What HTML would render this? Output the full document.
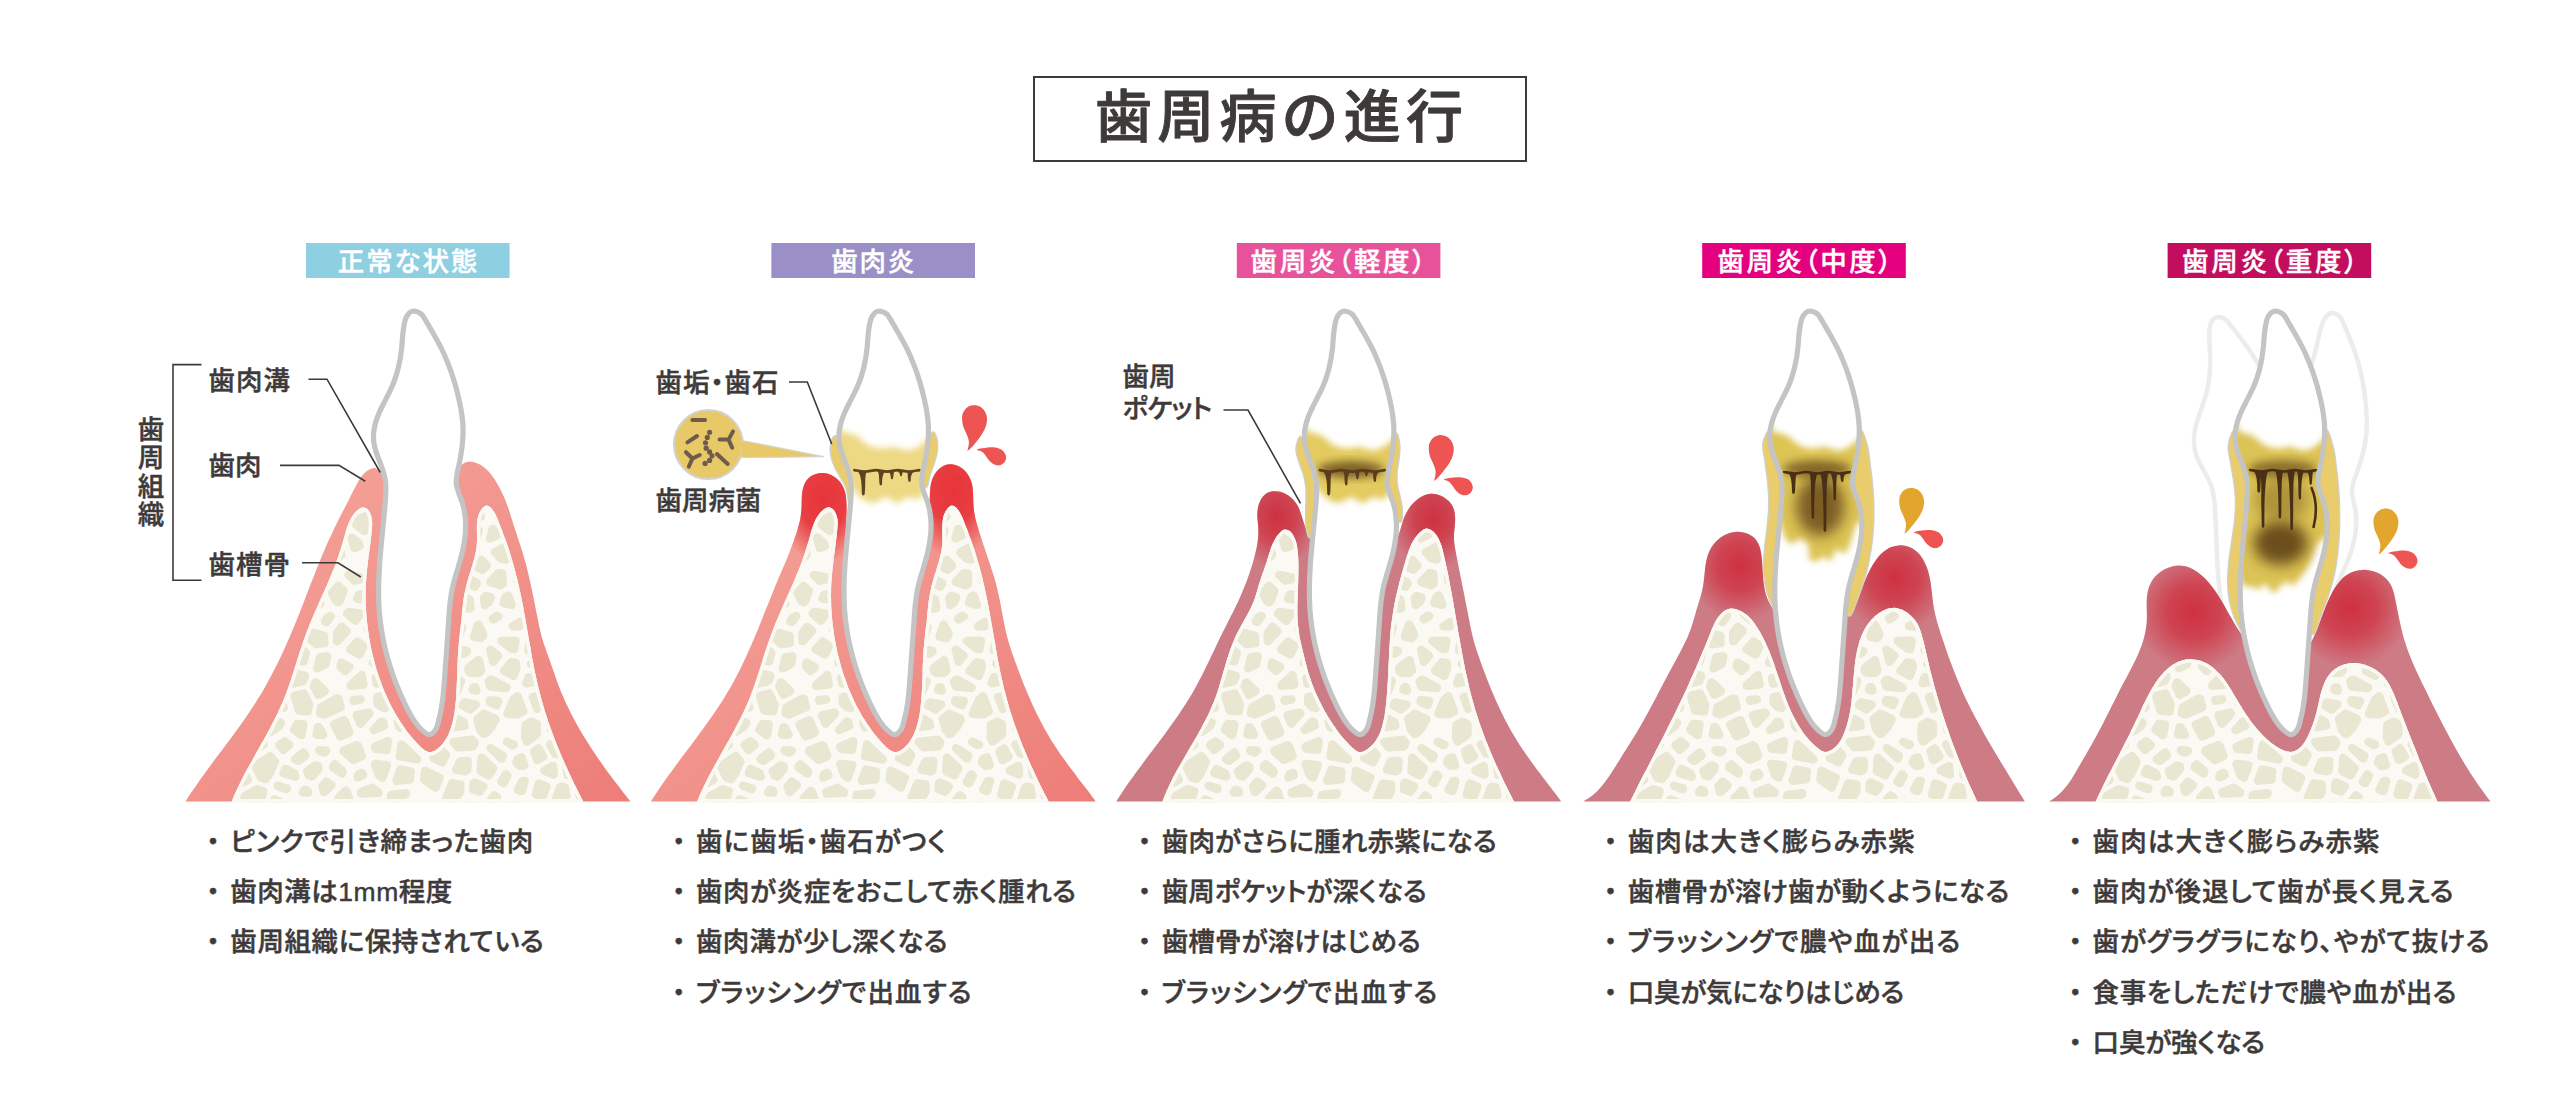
<!DOCTYPE html>
<html lang="ja"><head><meta charset="utf-8"><title>歯周病の進行</title>
<style>html,body{margin:0;padding:0;background:#fff}svg{display:block}text{font-family:"Liberation Sans","Noto Sans CJK JP",sans-serif;font-weight:500;fill:#3e3a39}.b{font-size:26.5px;font-feature-settings:"palt";stroke:#3e3a39;stroke-width:.45px;stroke-linejoin:round}.a{font-size:26.5px;font-feature-settings:"palt";stroke:#3e3a39;stroke-width:.45px;stroke-linejoin:round}.d{font-size:26.5px;stroke:#3e3a39;stroke-width:.45px}.l{font-size:26.5px;font-feature-settings:"palt";fill:#fff;stroke:#fff;stroke-width:.4px;stroke-linejoin:round}</style></head>
<body>
<svg width="2560" height="1106" viewBox="0 0 2560 1106">
<defs>
<linearGradient id="gumA" x1="0" y1="0" x2="1" y2="1"><stop offset="0" stop-color="#f5a89e"/><stop offset="1" stop-color="#ed7d78"/></linearGradient>
<radialGradient id="redA"><stop offset="0" stop-color="#e7343a" stop-opacity="1"/><stop offset="0.5" stop-color="#e7343a" stop-opacity="0.9"/><stop offset="1" stop-color="#e7343a" stop-opacity="0"/></radialGradient>
<radialGradient id="redB"><stop offset="0" stop-color="#cf3140" stop-opacity="1"/><stop offset="0.45" stop-color="#cf3140" stop-opacity="0.75"/><stop offset="1" stop-color="#cf3140" stop-opacity="0"/></radialGradient>
<filter id="bl2" x="-20%" y="-20%" width="140%" height="140%"><feGaussianBlur stdDeviation="3"/></filter>
<filter id="bl4" x="-30%" y="-30%" width="160%" height="160%"><feGaussianBlur stdDeviation="4.5"/></filter>
<filter id="bl7" x="-40%" y="-40%" width="180%" height="180%"><feGaussianBlur stdDeviation="7"/></filter>
<path id="tooth" d="M412.3,311.3C414.8,310.7 418.9,312.2 421.4,314.1C423.8,316 425.1,319.7 426.9,322.6C428.7,325.4 430.3,328.4 432,331.3C433.7,334.2 435.3,337.1 436.9,340C438.5,342.9 440.1,345.8 441.5,348.7C443,351.7 444.4,354.7 445.6,357.7C446.9,360.7 448.2,363.8 449.3,366.9C450.5,370 451.6,373.1 452.6,376.3C453.6,379.4 454.6,382.6 455.5,385.8C456.4,389 457.2,392.2 458,395.5C458.8,398.7 459.6,402 460.2,405.3C460.9,408.5 461.4,411.8 461.9,415.1C462.3,418.4 462.7,421.7 462.9,425C463.1,428.3 463.1,431.6 463,434.8C462.9,438.1 462.6,441.4 462.3,444.7C461.9,448 461.5,451.3 460.9,454.6C460.4,457.8 459.8,461.1 459.1,464.4C458.5,467.7 457.5,471 457,474.2C456.6,477.5 456,480.8 456.3,484C456.6,487.2 457.9,490.3 458.9,493.5C459.9,496.7 461.5,499.8 462.4,503C463.4,506.2 464.1,509.4 464.6,512.7C465.2,515.9 465.4,519.2 465.6,522.5C465.7,525.8 465.6,529.1 465.4,532.4C465.1,535.7 464.7,539 464.2,542.3C463.7,545.6 463.1,548.9 462.3,552.1C461.6,555.4 460.7,558.6 459.8,561.8C458.9,565.1 457.9,568.2 457,571.4C456,574.6 455,577.8 454.2,581C453.3,584.1 452.5,587.3 451.9,590.6C451.3,593.8 450.8,597 450.4,600.3C449.9,603.6 449.7,606.9 449.4,610.2C449.1,613.5 448.9,616.8 448.7,620.1C448.5,623.5 448.3,626.8 448,630.1C447.8,633.4 447.6,636.8 447.3,640.1C447.1,643.4 446.9,646.8 446.6,650.1C446.4,653.4 446.2,656.7 445.9,660C445.7,663.4 445.4,666.7 445.2,669.9C445,673.2 444.7,676.5 444.5,679.8C444.2,683 444,686.3 443.7,689.5C443.4,692.8 443.1,696 442.7,699.3C442.3,702.5 441.8,705.8 441.2,709.1C440.6,712.4 439.9,715.8 439,719.2C438.1,722.5 437.4,726.8 435.8,729.3C434.1,731.9 431.6,734.6 429.2,734.6C426.8,734.7 423.7,731.6 421.3,729.5C418.9,727.4 416.9,724.7 415,722C413.1,719.3 411.4,716.4 409.8,713.5C408.2,710.5 406.7,707.5 405.2,704.5C403.8,701.5 402.4,698.4 401,695.4C399.7,692.3 398.4,689.2 397.1,686.1C395.9,683 394.7,679.9 393.6,676.8C392.4,673.7 391.4,670.5 390.4,667.3C389.3,664.2 388.4,661 387.5,657.8C386.6,654.6 385.8,651.4 385.1,648.2C384.3,644.9 383.6,641.7 383,638.5C382.4,635.2 381.8,632 381.3,628.7C380.8,625.4 380.4,622.2 380,618.9C379.7,615.6 379.4,612.3 379.1,609C378.9,605.7 378.8,602.5 378.7,599.2C378.6,595.9 378.6,592.6 378.6,589.3C378.6,585.9 378.7,582.6 378.8,579.3C378.9,576 379.1,572.7 379.3,569.4C379.5,566.1 379.7,562.7 379.9,559.4C380.2,556.1 380.5,552.8 380.8,549.5C381.1,546.1 381.4,542.8 381.7,539.5C382,536.2 382.4,532.9 382.7,529.5C383,526.2 383.3,522.9 383.7,519.6C384,516.3 384.3,513 384.6,509.7C384.9,506.3 385.2,503 385.4,499.7C385.6,496.4 385.9,493.1 385.9,489.8C385.9,486.6 385.8,483.3 385.3,480.1C384.8,476.9 383.9,473.7 382.9,470.5C382,467.3 380.6,464.2 379.5,461.1C378.3,457.9 377,454.8 376,451.6C375.1,448.4 374.1,445.2 373.8,442C373.4,438.8 373.4,435.4 373.7,432.2C374,428.9 374.8,425.5 375.7,422.3C376.6,419.2 377.8,416 379.1,413C380.4,409.9 381.9,407 383.4,404C384.9,401 386.5,398.1 387.9,395.2C389.4,392.2 390.9,389.3 392.2,386.2C393.5,383.2 394.7,380.1 395.7,376.9C396.8,373.7 397.7,370.5 398.4,367.3C399.2,364 399.8,360.7 400.4,357.5C400.9,354.2 401.3,350.9 401.7,347.7C402,344.4 402.2,341.2 402.5,337.9C402.8,334.7 403,331.4 403.6,328C404.2,324.6 404.7,320.5 406.1,317.7C407.5,314.9 409.7,311.9 412.3,311.3Z"/>
<clipPath id="ct"><use href="#tooth"/></clipPath>
<path id="spots" d="M288.1,470.5 312.8,489.9 314.6,487.3 290.1,458.5 288,470.2ZM337.3,482.8 344,487.1 347.1,485.1 341.4,476ZM434.8,471.1 440.5,485.7 446.6,486.9ZM538.4,483.9 554.5,486.4 558.3,483.2 550.3,437.5ZM209.3,491.9 215.4,495.6 219.9,492.3ZM244.4,491.8 251.8,493.3 251.8,491.7 249.8,490.6ZM267.7,499.8 273.1,502.1 275.7,500.2 275.3,484.9 267.3,490.9ZM291.4,497 300.1,498 291.2,491.1ZM338.1,498.8 327.1,491.8 326.3,492.1 323.9,495.6 329.9,502.9ZM352,499 356.5,506.5 362.8,503.8 360.5,493.2 358.7,493.4 351.7,498ZM377,503.1 379.1,485.3 373.5,485.6 372,487.7 375.3,502.6ZM388.9,503.7 397.8,503.6 404.6,497.9 402.8,489.7 391.3,483.4ZM417.1,492.8 426.6,487.8 423.5,479.9 416,488ZM427.4,503.4 436.7,507 442.3,499.5 436.9,498.4ZM475.2,491.7 467.3,489.9 459,493 456.6,496.2 456.7,497.3 465.7,503.7 474.3,498ZM490.1,494.2 489.2,500.5 494.1,508.1 499.5,504 492.9,495.3ZM512.7,497.4 523,491.7 515.7,490.1 508.7,492.2ZM537.8,496.8 542.6,508 549.6,500.1 549.7,498.6ZM563.9,499 564.3,499.3 567.3,495.5 566.2,495 564,496.9ZM585.9,497.6 586.7,503 588.9,499ZM224.7,524.3 229.3,520.9 228.1,517 224.3,515.8 223.9,523.8ZM242.6,514.3 249.6,507.7 243,506.3 241.5,510.6ZM266.9,529.4 269.5,526.5 268.5,515 262.9,512.7 251.1,523.7 252,524.4ZM281.7,523.7 294.7,527.8 301,524.7 299.2,512.5 285.3,510.8 280.8,513.9ZM311.2,508.7 313,520.6 324.3,517.7 322.9,513.6 315.2,504.3ZM343.1,511.9 338,514.5 338.6,516.2 343.7,518.5 345.1,515.2ZM364.4,530.9 374.5,523.4 374.8,514.9 370.7,513.9 358.5,519.2 356.2,524.6ZM386.5,524 391,528.1 396.8,525.8 394.9,515.6 386.8,515.7ZM410.2,524.9 412.4,524 413.9,510.9 412.1,508.9 407.9,512.4ZM436.1,528.7 433.8,520 427,517.4 426.1,524.9ZM448.7,525.1 455.6,524.6 457.7,521.3 458.4,515.6 451.1,510.3 446.4,516.6ZM473.7,516.3 480.9,516.6 478.7,513ZM503,519.9 508.4,524.4 511.1,521.4 508.4,515.8ZM521.2,508.9 524,514.7 530,514.5 526.5,506ZM556.8,511.6 553.6,515.2 561.7,519.2 560.1,514ZM576.2,522.7 577.3,522.3 575.2,508.1 572.6,511.3ZM591.3,520.2 598.9,514.8 596.4,510.4ZM162.3,533.6 207.4,543.5 211.8,535.9ZM240.2,530.6 234.5,534.7 241,548.2 241.3,548.3 242.6,532.5ZM261,549.9 262.1,540.5 254.5,538 253.3,552.4 253.7,552.6ZM273.5,549.2 276.8,549.9 285.3,538.1 277.7,535.7 274.7,539ZM302.9,538.7 304.9,551.2 311.3,546.7 305.4,537.5ZM319.7,532.9 324.7,540.6 334,530.9 331.6,529.8ZM351.7,537.6 354.4,547.9 359.5,546.2 358.3,542.7ZM374,544.4 380.4,545.1 381.8,537.8 379.8,536 372.9,541.2ZM402.1,537.7 395.9,540.2 394.1,550.2 395.5,551.4 398.9,551.7 402.8,544.8ZM423.2,538.7 419.3,537.3 416.9,538.3 416.9,538.7ZM445.9,552.9 460.1,543.2 456.2,538.6 447.2,539.1 446.2,540.2 444.7,546.6ZM475.9,540.1 478.8,530.5 467.6,530 467.2,530.5 474.8,539.6ZM490,538.5 498.7,534 492.8,529ZM518.6,535.6 520.1,537.9 528.6,535.7 528.2,530.3 523.1,530.6ZM543,524.9 543.9,538.5 544.8,539.2 555.1,531ZM554.8,549.6 557.9,550.5 561.2,544.6ZM599.2,550.5 587.6,533.5 584.3,533 580.7,534.4 580.7,534.7 586.6,550.5ZM-19.7,545.5 157.2,564.4 209.9,567.8 206,558.9 87,532.7ZM221.6,557.3 227.6,551.8 224.2,545 219.7,552.9ZM225.1,572.7 244.3,572.4 246.2,562.6 244.7,561.8 238.6,560.4ZM278,565.1 280.2,572.3 282.8,573 285.9,569.3ZM289.6,554.4 291.5,555.4 291,552.5ZM307.6,566.2 307.8,566.4 324.8,561.3 321.8,556.2ZM338.8,557.3 341.2,554.8 339.2,547.1 335.3,551.2ZM374.2,570.3 377.6,569.8 382.5,560.5 375.8,559.8ZM412.7,556.2 425.4,553.6 414.2,553.5ZM431.4,565.8 420.8,568 424.2,572.7ZM467.8,555.3 454,564.7 456.2,567.2 462.4,564.6ZM481.7,559.9 477.5,567.2 482.4,569.8 486.6,565.5ZM495,552.2 500.8,558.5 506,559.6 508.1,548.9 506.4,546.3ZM536.5,559.6 539.5,554 539,551.7 535.7,548.9 521.9,552.4 520.4,560 532.6,562.6ZM571.3,559.1 574,555.6 573.2,553.5 570.5,558.3ZM211.3,581.4 188.7,579.9 208.5,589ZM238.5,590.3 240,586.6 236,586.7ZM256.1,576.4 261.8,578.9 266.5,576.2 262.4,562.5 258.6,563.8ZM272.7,588.8 275.3,591.2 276.1,587.7 275,587.5ZM299.3,578.2 297.1,580.9 304.4,587.5 304.5,587.5 300.2,578.9ZM327.8,575 316.9,578.3 319.6,583.6 320.2,583.7ZM348.5,574.9 354.5,580.7 360.8,579.2 361.2,578.4 360.8,577.4ZM375.6,589.1 378,584.4 373.3,585.1 373.3,585.2ZM397.9,565.5 396.4,565.4 390.8,575.9 391.3,576.4 395.8,579.1ZM409.6,586.9 414.6,587.9 415.1,584 410.9,578.3ZM429.8,590.7 442.1,588.2 446.9,581.1 446.9,578.5 442.6,573.6 430.5,585.4ZM462.3,579.8 474.5,586.7 476.6,584.3 476.7,582.9 467,577.8ZM490.4,581.6 490.4,582.1 500.2,585.2 502.8,583.7 502.3,573.7 498.9,573ZM517.3,574.2 517.6,581.1 527.6,580 527,576.3ZM593.1,578 597.2,577.6 598.8,575ZM221.2,591.3 218.4,599 217.5,603.1 230.1,606.8 232.4,606.9ZM261.8,607.5 263.3,607.8 266.7,604.4 264.9,602.6ZM290.4,596.2 289.7,599.2 293.3,601 294,599.6ZM310.5,602.3 320.1,603.8 320.2,603.7 317.5,598.4 316.2,598.1ZM338.3,602.1 340.1,600.5 343.4,590.8 338.3,586 332.1,593.1 336.2,601ZM365.1,599.8 361.8,594.2 358.4,595.1 357.2,598.7ZM386.1,599.2 389.2,596.9 392.6,593.5 389.8,591.9ZM415.3,603.9 405.2,601.9 404.4,602.6 411.7,610.2ZM431,604.2 437.5,611.5 446.5,607.7 443.3,601.7ZM456.5,592.3 454.5,595.2 460.3,606.4 463.1,608.7 470.5,608.2 469.6,599.7ZM484.8,605.1 488.9,602.1 490.8,597.4 486,595.9 484,598.1ZM503.5,602.9 511.5,604.9 508.1,595.5 505.9,596.7ZM526.4,608.2 532,594.4 521.7,595.6 526.3,608.1ZM541.1,609.2 543.3,609.4 551.1,601.9 550,598.1 545.5,598.1ZM563.6,593.6 565.4,599.7 570.2,602.7 575.5,601 575.3,590.1 572.8,587.8ZM588.5,603 597.3,610.1 604.3,606.7 598,591.7 588.3,592.6ZM209.8,629.6 218.7,617.1 210.6,614.6 205.2,617.9ZM251.1,620.1 254.6,630.8 264,630.1 260.6,622.2ZM280.3,611.6 274.3,617.6 276.8,623.3 289,618.8 288.7,615.7ZM304.1,617 304.4,620.2 305.2,621 307.2,620.2 308.7,617.7ZM327.3,617.7 325,621.5 326.5,621.9 330.8,616.1 330.5,615.9ZM347.2,613.5 355.4,620.9 360.7,613.6 348.9,611.9ZM367.4,629.1 371.9,632.4 379.9,623.6 377.5,615.5 377.4,615.5ZM392.2,612.4 394.5,620 403.8,623 393.1,611.8ZM421.5,623 429.5,624.5 429,622.2 424.7,617.4ZM452.1,618.5 442.8,622.5 444.6,631 444.8,631.2ZM457.1,635.7 459.2,635.6 462,627.3ZM492.9,618.7 493.3,619.4 498.4,616.2 496.9,615.8ZM512.7,626.3 519.3,626.2 519.7,622ZM534.6,622.8 534.2,626.6 543.4,632.8 550.2,631.1 542.8,623.6ZM555.1,617.2 560.3,622.4 562.1,613.5 560.2,612.3ZM580.8,615.1 576.3,616.6 575.9,618.4 585.3,618.6ZM613.9,639.2 756.3,664.7 1041.8,663.6 613.3,616.9 602.4,622.3 600.7,627.7 600.9,630.8ZM215.3,646.6 227.8,652 229.9,651.1 224.4,645.7ZM234.7,636.1 240.7,641.9 243,637.8 239.4,626.8ZM268.4,651.8 268.5,651.8 266.2,644.4 253.9,645.4 253.5,646.1ZM278.5,637.3 281.7,647.9 282,647.9 297.2,638.1 296.8,633.3 295,631.3ZM309.4,634.3 309.7,638.6 316.2,644.2 324.3,643.2 324,635.7 313.1,632.9ZM337.1,641.3 346.6,631.2 341.6,626.7 336.9,633.2ZM350.2,649.4 359.5,654.5 363.5,646.1 357.5,641.7ZM383.4,641.9 392.6,646.7 396.4,635.4 390.9,633.7ZM408.2,642.4 405.8,649.2 411.9,649.1ZM421.8,638.2 428.2,649.8 428.5,649.8 436.3,642.2 435,640.8ZM467.1,651.1 463.4,650.2 461.1,650.3 463.6,653.8ZM478.2,624.6 474.1,636.7 480.6,638.2 482.7,636 483.1,634.5 482.9,633.3ZM501.5,641 511.3,648.7 514.1,649.1 515.6,640.8ZM528.3,650.3 533.7,648.2 534.1,644.1 529.9,641.2ZM560.8,651.9 556.6,644.4 549.3,646.3 549.1,649.7 554.3,653.1ZM567.9,634.7 574.3,646.2 585.7,633.7 569.1,633.4ZM590.8,656.2 599.4,647.3 595.4,644.7 587.5,653.4ZM204.7,657.4 190.4,669.3 216.9,677.3 219.1,676.4 221.2,664.5ZM231.6,676.9 242.1,675.9 235.7,664.3 233.6,665.3ZM247.8,658.9 254.2,670.4 260.7,663.9ZM277.7,664.2 282.5,670 283.8,667.5 279.5,662.4ZM303.4,650.8 294.8,656.4 297.7,659.9 303.6,661.6 305.9,652.9ZM317.3,668.2 325.4,664.2 327,656.3 320.2,657.1ZM341.3,662.6 340.5,666.5 345.1,670.9 349.4,667.1ZM372.9,662.7 388,664.7 388.2,660.7 376.6,654.8ZM401.5,666.2 411.6,664.2 413.8,661.5 401.8,661.7ZM424.6,674.9 427.6,669.8 426.8,667.8 423.6,671.6ZM440.4,659.4 442.5,665.2 449.6,669.1 454.5,667.9 454.5,667.6 445.1,654.8ZM478.7,660.1 468.5,668.1 468.6,670.9 471,672.9 478.3,673.1 481.2,670.4ZM490.3,649.7 493.2,661.8 498.2,655.9ZM516.4,667.8 516,663.3 515.7,662.8 511.5,662.3 504.2,670.8 513.5,675.9ZM531,663.9 542.3,665.6 544.2,662.8 540.3,660.3ZM558.6,668 557.2,668.2 553.4,673.7 554.3,677.5 558.3,677.4ZM572.8,677.9 582.9,668.3 574.1,660.9 573.8,660.9 573.3,661.4ZM601.4,666.8 605.7,670.8 642.6,676.1 703.2,669.8 613.9,653.8ZM178.1,680 167.3,683.5 201.4,699.9 209.4,697.8 209.3,689.4ZM260.8,683.2 263.5,690.6 276.3,686.1 268.1,676ZM290.8,684.2 302.9,681.2 304.9,676.3 304.8,675.9 296.4,673.5ZM315.5,682.4 314,686.1 318.2,694.8 324.7,691.1ZM350.6,685.7 363.4,684.6 361.7,675 350.8,684.8ZM376.8,683.5 388.9,681.9 388.7,679.6 375.8,677.9ZM402.7,684.7 413.2,686.9 410.4,677 402.1,678.6ZM435.1,687.8 438.6,689.8 440,681.3 439.2,680.9ZM461,681.2 460.7,680.9 454.1,682.4 451.5,697.8 452.2,698.2 456.6,692.5ZM475.1,687.1 473.8,687.1 472.7,689.9 476.3,690.7ZM490.9,679.6 488.7,681.7 490.3,686.5 506.1,688.1 506.4,687.8 491.5,679.6ZM526.3,683.3 539.2,680.7 538.8,678.8 528.5,677.2ZM554.3,692 554.8,694.6 564.8,693.8 564.6,693.3 563.1,691.7ZM599.2,700.5 621.4,687.6 605.3,685.3 595.1,697.6ZM257.8,705 246.9,714.3 257.4,721.9 260.4,712ZM281.3,699.6 272,702.9 272.9,705.4 283.8,707.7ZM307.9,711.3 309,704.4 303.8,693.6 294.6,695.8 298.9,710.5ZM324.2,714.5 340.6,707.2 338.3,698.6 336.6,698.6 321.2,707.4 320.3,713.2ZM360.6,699.4 353.6,700 353.8,700.8ZM389.7,695.4 377.6,697 377.3,703 381.7,707.2 385.2,708.1ZM400.9,706.3 408.3,705.2 408.3,700.3 403.4,699.2ZM423.6,711.7 432.8,702.4 423.2,697 422.9,697 422.1,697.5 422.2,709.9ZM440.7,719.3 445.1,709.9 444.5,709.5 436.8,717.3ZM462.5,705.2 469.9,709.4 475.7,704.6 464.7,702.5ZM490,700.2 489.8,700.8 489.8,702.1 496.6,705.2 498.4,701ZM507.5,713.7 517.8,714.3 523.3,711.4 517.6,696.2 513.7,699.4ZM537.3,708.8 541.6,700.6 540.7,695.7 532.9,697.2ZM549.2,714.5 564.9,711.8 566.4,706.3 552.9,707.4ZM577.2,714.1 592.2,721.2 592.7,720.7 592.4,712.4 582.9,705.5 579.5,705.6ZM219.3,724.2 220.7,725 221.2,724.8 225.4,716.7 224.5,716.3ZM236.2,729 241.8,734.1 246.4,731.6 238.1,725.5ZM280.9,722.6 272.7,720.8 269.8,730.3 271.2,731.6 278.9,726.3ZM297.2,723.9 294.1,729.6 301.4,735.1 303.4,724.5ZM318.1,727.1 316.6,734.5 323.1,734.8 319.2,727.5ZM334.1,724.5 340.4,736.3 349.4,732.7 344.1,720.1ZM356.7,715.2 360.3,723.7 369.4,713.4 368.7,712.7ZM373.9,730 383.9,725.7 383,722.1 381.2,721.7ZM399.7,727.4 412.4,723.6 413.9,720.4 413.1,719.2 397.9,721.4 399.3,726.9ZM425.4,726.6 424.3,728.8 431.4,739.8 438.8,735.8 438.9,735.5 438.5,733.4ZM454,727.1 464.5,725.9 463.5,722.2 457.8,718.9ZM485.6,733.3 491.6,726.8 495.4,719.6 495.1,718.7 484.1,713.7 477.5,719.1 480.2,729.8 483.9,733.9ZM526.9,741.5 535.7,735.2 536.8,733.4 536.6,724 536.4,723.9 531.8,721.7 525.6,724.9 525.3,738ZM561.3,734.2 561.8,726.3 550.9,728.2 551,729.9ZM583.6,732.5 576.8,729.3 576.5,734.8 582.8,734.7ZM610.2,733.7 629.8,756.8 752,763.4 759.5,762.6ZM184.5,749.7 209.6,742.7 211.4,737 207.5,734.8 181.6,749.2ZM224.2,746.7 231.3,754.6 231.9,754.4 232.6,746.5 226.1,740.7ZM259.8,741.1 247.4,747.7 246.7,755.8 246.8,755.9 263.4,744.6ZM279.4,745 283.4,749.7 289.2,744.9 284.6,741.4ZM303.4,752.4 295.1,759.2 298.2,760.8 305.3,755.7ZM319.3,750.3 319.8,751.1 323.8,752.6 326.3,750.6ZM353.3,759.8 361.4,756.3 361.8,755.7 358.4,746.6 356.8,745.2 343.9,750.3 343.6,751.3ZM387.9,741.2 374.9,746.7 375.7,748.8 386.6,749.9ZM399.8,756.2 416.9,759.5 417.1,759.4 401.6,744.5ZM417.5,742 414.3,737.2 412.9,737.6ZM433.5,757.9 442.4,762.1 445.8,755.2 441.8,750.3 435.5,753.8ZM453.5,741.8 458.1,747.3 472.5,746.6 474,744.7 474.7,742.6 472.1,739.7ZM490.7,748.2 501.8,758.6 502.8,755.8ZM506.9,741.8 512.2,745.2 513.7,744.6ZM543.1,756.5 538.5,748.3 534.2,751.4 537.1,760ZM550,744.5 555,753.4 557.2,753.9 559.7,751.1 559.9,748.6ZM572.9,749.6 587.2,757.8 583.4,749.1 572.9,749.3ZM595.9,739.9 595.2,741.8 601,754.9 609.9,756.3ZM203.6,760.2 214.6,767.6 219,764.5 212.8,757.6ZM233.4,769.2 233.3,769.2 242.9,782.6 247.8,779.8 242.6,769 238.9,767.4ZM275,761.7 270.2,756.1 255.5,766.1 261,777.4 265.7,778.9 269.5,773.8ZM285.4,768.9 283.5,773.1 295.5,776.6 294.1,773.3ZM318.3,766.4 315.4,765.4 307.3,771.2 309,775.3 312,776.5 318.3,769.3ZM342,773.6 342.7,771.2 335,764.4 333.4,765.7 333.3,767.6ZM357.7,777.4 363,775.3 362,772.8 358.6,774.3ZM374.9,764 379,775.3 382.3,777.7 386.9,765.1ZM396.4,780.8 409.9,779.3 410.6,771.7 400.4,769.6ZM425.2,770.8 424.3,779.7 435.4,787.7 439.5,777.7ZM456.1,769.7 465.5,771.3 467.1,770.3 467.8,761 460.1,761.4ZM481.6,757.8 480.7,771.2 489,775.2 493,768.4ZM501.5,781.7 503.7,783.2 507.4,775.9 505.8,774.4ZM521.6,757.3 517.7,758.9 516.4,762.4 520,765.9 524.3,765.3ZM544.5,770.6 553.7,774.6 552.9,766.2 552.3,766.1ZM566.3,762.7 567.4,774.8 569.9,775.4 574.9,773.3 578,768.3 567,762ZM606,769.7 597.6,768.4 592.4,771.3 588.6,777.4 593.3,781.9ZM211.6,788.4 202.7,796.9 204.2,797 212.8,792.2ZM226.6,790.6 232.1,792.8 233,791.6 223.9,778.9 223.2,779.4ZM263.3,791.2 257.2,789.2 245.3,796 244.2,797.7 259.7,803.1ZM277.8,785.8 286.3,789.2 286.8,788.4 277.8,785.7ZM302.9,792.4 308.1,792.6 307.5,790.6 304.9,789.6 304.7,789.7ZM331.4,785.2 326.3,781.7 322.3,786.4 324,792 324.7,791.9ZM345.6,790.8 338.5,797.9 347.7,803.9 349.5,800.2 346.6,791.8ZM378.3,792.9 378.4,792.1 372.1,787.7 361,792.1 361.5,793.6ZM390.9,797.6 393.9,800.9 405.9,794.2 406,793.2 391.4,794.8ZM446.1,798 455.3,799.1 460,791.9 460.3,784.7 452.2,783.3ZM473.3,789.4 479.3,791.7 483.3,786.6 474.8,782.5 473.6,783.2ZM488.9,809 492.7,808.7 497,797.3 494.3,795.5 488.9,802.3ZM521.7,791 524.6,780.9 522.3,781.2 517.9,789.7ZM535.9,794.4 543.1,795.8 546.4,786.6 539,783.4ZM556.1,798.4 566.4,795.7 565,787.5 561.8,786.7 560.1,787.4ZM578.2,786.8 579.9,797.3 583.9,802.1 587.9,801 586.9,795.1ZM626,772.5 624.6,772.6 601.7,794.5 602.6,800.3 613.4,804.6 706.9,776.9ZM221.6,802.8 215.7,806.1 225.6,818.2 227.5,805.2ZM240.3,810.1 239.1,818.6 255.6,820.7 257.8,819.4 257.4,816.1ZM283.8,803.4 274.1,799.5 270.4,811.6 271.2,818.5 272.7,819.1 284.6,817.8ZM297.9,817.8 303.2,815.1 308.4,807.3 297.3,806.9ZM317.2,818.4 323.9,822.6 324.4,822.7 318.6,816.1ZM330.3,808.7 335.1,814.1 337,813.1ZM359,813.3 361.6,816.8 368.1,808 361.5,808.3ZM400.9,811.5 406.2,816.3 410.9,807.4 410,806.3ZM430.5,821.3 433.1,809.4 422.7,812.2 419.5,818.5ZM455.2,812.3 446.2,811.3 444.1,820.5 460.3,819.5 460.6,818.9ZM469.4,803.1 467.8,805.5 471.8,810.2 474.1,810 474,804.9ZM506.7,813.9 511.6,819.2 515.3,819.7 517.4,805.5 510.7,803.4ZM531.1,816.6 541.2,812.2 541.9,810.3 532.3,808.5ZM554.6,818.8 556,822.6 559.6,821ZM564.6,809.2 572.5,812.7 573.7,810.6 571.1,807.5ZM584.9,820.4 595,830.1 601.7,817.1 595.2,814.5 586.9,816.9ZM351.5,828.6 347.9,823.7 338.8,828.1 337.9,829.9 344.8,847.8ZM386.6,831.5 393,841.3 396.7,826.5 394.5,824.6ZM476.8,823.6 472.7,824 470.8,827.4 473.6,877.8 480.9,854.1ZM490.6,823.7 492.2,835.6 498.5,827 495,823.3Z"/>
<path id="bn0" d="M231.3,802.5L232.3,799.9L233.4,797.3L234.5,794.8L235.7,792.2L236.8,789.7L238,787.2L239.2,784.7L240.5,782.2L241.7,779.7L243,777.2L244.3,774.7L245.6,772.2L246.9,769.8L248.3,767.3L249.6,764.8L251,762.4L252.3,759.9L253.7,757.5L255.1,755L256.5,752.6L257.9,750.1L259.2,747.7L260.6,745.3L262,742.8L263.4,740.4L264.7,737.9L266.1,735.4L267.4,733L268.8,730.5L270.1,728.1L271.4,725.6L272.7,723.1L274,720.6L275.2,718.1L276.5,715.6L277.7,713.1L278.9,710.6L280,708L281.2,705.5L282.3,702.9L283.4,700.4L284.4,697.8L285.4,695.2L286.4,692.6L287.4,690L288.3,687.3L289.3,684.7L290.2,682.1L291.1,679.4L291.9,676.8L292.8,674.1L293.6,671.4L294.5,668.8L295.3,666.1L296.2,663.4L297,660.8L297.8,658.1L298.7,655.4L299.5,652.8L300.4,650.1L301.3,647.4L302.2,644.8L303.1,642.1L304,639.5L304.9,636.9L305.9,634.2L306.9,631.6L307.9,629L308.9,626.4L309.9,623.8L311,621.2L312.1,618.7L313.2,616.1L314.3,613.5L315.4,611L316.5,608.4L317.7,605.8L318.8,603.3L319.9,600.7L321.1,598.2L322.2,595.6L323.4,593.1L324.5,590.5L325.6,588L326.8,585.4L327.9,582.8L329,580.3L330.1,577.7L331.1,575.1L332.2,572.5L333.2,570L334.3,567.4L335.3,564.8L336.3,562.2L337.2,559.5L338.1,556.9L339.1,554.3L339.9,551.6L340.8,549L341.6,546.3L342.4,543.6L343.2,540.9L343.9,538.2L344.7,535.4L345.4,532.7L346.2,530L347.1,527.3L348,524.7L349.1,522.1L350.3,519.6L351.7,517.1L353.3,514.8L355,512.6L357.1,510.5L359.4,508.7L361.8,507.6L364.3,507.5L366.7,508.6L368.7,510.6L370.2,513.2L371.2,516L371.9,518.8L372.1,521.6L372.2,524.4L372,527.1L371.8,529.9L371.5,532.7L371.3,535.5L370.9,538.2L370.6,541L370.3,543.8L369.9,546.5L369.6,549.3L369.2,552.1L368.8,554.9L368.5,557.6L368.1,560.4L367.8,563.2L367.5,566L367.1,568.8L366.9,571.5L366.6,574.3L366.4,577.1L366.2,579.9L366,582.7L365.8,585.5L365.7,588.3L365.7,591.1L365.6,593.8L365.6,596.6L365.7,599.4L365.7,602.2L365.8,605L365.9,607.8L366.1,610.6L366.3,613.4L366.5,616.2L366.7,618.9L367,621.7L367.3,624.5L367.6,627.3L368,630.1L368.4,632.8L368.8,635.6L369.3,638.4L369.8,641.1L370.3,643.9L370.8,646.6L371.4,649.4L372,652.1L372.6,654.8L373.3,657.6L374,660.3L374.7,663L375.4,665.7L376.2,668.4L377,671L377.9,673.7L378.8,676.4L379.7,679L380.6,681.6L381.6,684.2L382.6,686.9L383.6,689.4L384.7,692L385.8,694.6L386.9,697.1L388.1,699.7L389.3,702.2L390.6,704.7L391.8,707.2L393.2,709.6L394.5,712.1L395.9,714.5L397.3,716.9L398.8,719.3L400.3,721.7L401.8,724L403.4,726.3L405,728.6L406.6,730.9L408.3,733.1L410.1,735.3L411.9,737.4L413.7,739.6L415.6,741.7L417.5,743.7L419.5,745.7L421.5,747.7L423.7,749.5L426.1,751L428.6,752L431.2,752L433.8,751.2L436.3,749.8L438.5,748.1L440.6,746.1L442.5,744L444.2,741.7L445.7,739.3L447.1,736.9L448.4,734.4L449.5,731.8L450.5,729.2L451.3,726.6L452.1,723.9L452.8,721.2L453.4,718.5L453.9,715.7L454.4,713L454.8,710.2L455.1,707.4L455.4,704.6L455.7,701.9L456,699.1L456.2,696.3L456.4,693.5L456.5,690.7L456.7,687.9L456.8,685.1L456.9,682.3L457,679.5L457.1,676.7L457.2,673.9L457.2,671.1L457.3,668.3L457.4,665.5L457.5,662.7L457.7,659.9L457.8,657.1L458,654.3L458.1,651.6L458.3,648.8L458.6,646L458.8,643.2L459.1,640.4L459.4,637.7L459.7,634.9L460,632.1L460.3,629.3L460.7,626.5L461,623.8L461.3,621L461.6,618.2L461.8,615.4L462.1,612.6L462.4,609.8L462.7,607L463,604.3L463.3,601.5L463.7,598.7L464.1,595.9L464.6,593.2L465.2,590.5L465.8,587.8L466.4,585.1L467.2,582.4L467.9,579.7L468.7,577L469.5,574.3L470.4,571.7L471.2,569L472,566.3L472.8,563.6L473.6,560.9L474.3,558.2L475,555.5L475.6,552.7L476.1,550L476.5,547.2L476.8,544.4L477,541.6L477.1,538.8L477.1,536L477,533.2L476.9,530.4L476.9,527.6L476.9,524.8L477.1,522L477.5,519.2L478.1,516.4L479.1,513.7L480.4,510.9L482.1,508.4L484.1,506.4L486.2,505.4L488.4,505.9L490.6,507.6L492.7,510L494.4,512.6L495.9,515.2L497.1,517.8L498.2,520.4L499.1,522.9L500.1,525.5L501.1,528.1L502.1,530.6L503,533.2L504,535.9L505,538.5L506,541.1L506.9,543.7L507.8,546.4L508.7,549L509.6,551.7L510.4,554.4L511.2,557L512,559.7L512.8,562.4L513.6,565.1L514.3,567.8L515,570.5L515.7,573.2L516.4,575.9L517.1,578.6L517.7,581.4L518.4,584.1L519,586.8L519.6,589.5L520.2,592.3L520.8,595L521.3,597.8L521.9,600.5L522.4,603.2L523,606L523.5,608.7L524,611.5L524.5,614.2L525,617L525.5,619.7L526,622.5L526.5,625.2L527,628L527.4,630.7L527.9,633.5L528.4,636.3L528.8,639L529.3,641.8L529.8,644.5L530.3,647.3L530.7,650L531.2,652.8L531.7,655.5L532.2,658.3L532.7,661L533.3,663.7L533.8,666.5L534.3,669.2L534.9,672L535.5,674.7L536.1,677.4L536.7,680.2L537.3,682.9L537.9,685.6L538.6,688.3L539.3,691.1L540,693.8L540.7,696.5L541.4,699.2L542.2,701.9L542.9,704.6L543.7,707.2L544.5,709.9L545.3,712.6L546.2,715.3L547.1,717.9L547.9,720.6L548.8,723.2L549.7,725.8L550.7,728.5L551.6,731.1L552.6,733.7L553.6,736.3L554.6,739L555.6,741.6L556.6,744.2L557.6,746.8L558.7,749.3L559.8,751.9L560.9,754.5L561.9,757.1L563.1,759.6L564.2,762.2L565.3,764.7L566.5,767.3L567.6,769.8L568.8,772.4L570,774.9L571.2,777.4L572.4,780L573.6,782.5L574.8,785L576.1,787.5L577.3,790L578.5,792.5L579.8,795L581.1,797.5L582.4,800L583.6,802.5Z"/><clipPath id="cb0"><use href="#bn0"/></clipPath>
<clipPath id="cg0"><path d="M185.5,801.4C186.3,800.1 188.7,796.4 190.4,793.8C192.1,791.3 193.7,788.9 195.5,786.4C197.2,783.9 198.9,781.5 200.6,779C202.4,776.6 204.1,774.1 205.9,771.7C207.7,769.2 209.5,766.8 211.3,764.4C213.1,762 214.9,759.6 216.7,757.1C218.5,754.7 220.3,752.3 222.1,749.9C223.9,747.5 225.7,745.1 227.5,742.7C229.4,740.2 231.2,737.8 232.9,735.4C234.7,733 236.5,730.5 238.3,728.1C240,725.6 241.8,723.2 243.5,720.7C245.2,718.3 247,715.8 248.6,713.3C250.3,710.8 252,708.3 253.6,705.8C255.3,703.2 256.9,700.7 258.4,698.1C260,695.6 261.6,693 263.1,690.4C264.6,687.8 266.1,685.2 267.5,682.6C269,680 270.4,677.3 271.8,674.6C273.2,672 274.6,669.3 275.9,666.6C277.3,663.9 278.6,661.2 279.9,658.5C281.2,655.8 282.5,653.1 283.7,650.3C285,647.6 286.2,644.9 287.4,642.1C288.7,639.3 289.8,636.6 291,633.8C292.2,631 293.4,628.2 294.5,625.5C295.6,622.7 296.8,619.9 297.9,617.1C299,614.3 300.1,611.5 301.2,608.7C302.3,605.8 303.4,603 304.5,600.2C305.6,597.4 306.6,594.6 307.7,591.8C308.8,589 309.9,586.2 311,583.3C312.1,580.5 313.2,577.7 314.3,574.9C315.4,572.1 316.5,569.3 317.6,566.5C318.7,563.7 319.8,561 321,558.2C322.1,555.4 323.3,552.6 324.5,549.9C325.7,547.1 326.9,544.4 328.1,541.6C329.3,538.9 330.6,536.2 331.9,533.4C333.1,530.7 334.5,528 335.8,525.3C337.1,522.7 338.5,520 339.8,517.3C341.2,514.6 342.6,512 344,509.3C345.4,506.6 346.7,503.9 348.1,501.2C349.5,498.5 350.9,495.8 352.2,493.1C353.6,490.4 354.8,487.6 356.3,484.9C357.7,482.3 359.1,479.6 360.9,477.2C362.7,474.8 364.8,472.3 367.2,470.7C369.6,469.2 372.7,467.5 375.2,468C377.7,468.6 380.9,473 382,474L458.5,468C459.4,467.2 462.1,464.1 464.1,463C466.1,462 468.5,461.7 470.7,461.8C472.9,461.8 475.2,462.4 477.3,463.3C479.4,464.1 481.5,465.3 483.3,466.7C485.2,468 486.9,469.7 488.6,471.5C490.2,473.2 491.7,475.2 493.1,477.2C494.6,479.2 495.9,481.4 497.1,483.5C498.4,485.6 499.5,487.8 500.6,489.9C501.7,492.1 502.7,494.2 503.7,496.3C504.6,498.4 505.5,500.6 506.3,502.7C507.2,504.9 507.9,507.1 508.7,509.3C509.4,511.6 510.1,513.8 510.8,516.1C511.5,518.3 512.2,520.6 512.9,522.8C513.6,525.1 514.4,527.4 515.1,529.6C515.9,531.9 516.6,534.1 517.4,536.4C518.1,538.6 518.9,540.9 519.6,543.2C520.3,545.4 521.1,547.7 521.8,550C522.5,552.2 523.2,554.5 523.8,556.8C524.5,559.1 525.1,561.4 525.8,563.6C526.4,565.9 527,568.2 527.5,570.5C528.1,572.8 528.6,575.1 529.2,577.4C529.7,579.8 530.2,582.1 530.7,584.4C531.2,586.7 531.7,589 532.2,591.3C532.7,593.7 533.1,596 533.6,598.3C534.1,600.6 534.5,603 535,605.3C535.5,607.6 535.9,609.9 536.4,612.3C536.8,614.6 537.3,616.9 537.8,619.3C538.3,621.6 538.7,623.9 539.2,626.2C539.7,628.6 540.3,630.9 540.8,633.2C541.4,635.5 542,637.8 542.7,640C543.4,642.3 544.1,644.5 544.9,646.8C545.6,649 546.4,651.2 547.2,653.5C548,655.7 548.9,657.9 549.7,660.2C550.4,662.4 551.2,664.7 552,666.9C552.8,669.1 553.6,671.4 554.3,673.6C555.1,675.9 555.9,678.1 556.7,680.4C557.5,682.6 558.3,684.8 559.2,687C560.1,689.3 560.9,691.5 561.8,693.7C562.8,695.8 563.7,698 564.7,700.2C565.6,702.3 566.6,704.5 567.7,706.6C568.7,708.8 569.7,710.9 570.8,713C571.9,715.1 573,717.2 574.1,719.3C575.2,721.4 576.3,723.5 577.5,725.5C578.6,727.6 579.8,729.6 581,731.7C582.2,733.7 583.5,735.8 584.7,737.8C585.9,739.8 587.2,741.8 588.5,743.8C589.7,745.8 591,747.8 592.3,749.8C593.7,751.8 595,753.8 596.3,755.7C597.6,757.7 599,759.7 600.4,761.6C601.7,763.6 603.1,765.5 604.5,767.4C605.9,769.4 607.3,771.3 608.7,773.2C610.1,775.1 611.5,777 612.9,778.9C614.3,780.8 615.8,782.7 617.2,784.6C618.7,786.5 620.1,788.4 621.6,790.2C623,792.1 624.5,794 625.9,795.8C627.4,797.7 629.6,800.5 630.3,801.4Z"/></clipPath>
<clipPath id="cg1"><path d="M650.9,801.4C651.6,800.3 653.7,797 655.2,794.8C656.6,792.6 658.1,790.4 659.5,788.2C661,786 662.5,783.9 664,781.7C665.5,779.6 667.1,777.4 668.6,775.3C670.1,773.1 671.7,771 673.3,768.9C674.8,766.7 676.4,764.6 678,762.5C679.6,760.3 681.2,758.2 682.7,756.1C684.3,754 685.9,751.9 687.5,749.7C689.1,747.6 690.7,745.5 692.3,743.4C693.9,741.2 695.5,739.1 697.1,737C698.7,734.8 700.2,732.7 701.8,730.6C703.4,728.4 704.9,726.3 706.5,724.1C708,722 709.5,719.8 711.1,717.6C712.6,715.5 714.1,713.3 715.6,711.1C717,708.9 718.5,706.7 719.9,704.5C721.4,702.3 722.8,700.1 724.2,697.8C725.6,695.6 726.9,693.3 728.3,691.1C729.6,688.8 730.9,686.5 732.2,684.2C733.5,681.9 734.7,679.6 735.9,677.3C737.2,675 738.4,672.6 739.6,670.3C740.7,667.9 741.9,665.5 743,663.2C744.2,660.8 745.3,658.4 746.4,656C747.5,653.6 748.5,651.2 749.6,648.8C750.7,646.4 751.7,643.9 752.8,641.5C753.8,639.1 754.8,636.6 755.9,634.2C756.9,631.8 757.9,629.3 758.9,626.9C759.9,624.4 760.9,622 761.9,619.5C762.9,617 763.8,614.6 764.8,612.1C765.8,609.7 766.8,607.2 767.8,604.7C768.8,602.3 769.7,599.8 770.7,597.4C771.7,594.9 772.7,592.4 773.7,590C774.7,587.5 775.7,585.1 776.7,582.6C777.7,580.2 778.8,577.8 779.8,575.3C780.8,572.9 781.9,570.4 782.9,568C783.9,565.6 784.9,563.1 786,560.7C787,558.3 788,555.8 789,553.4C789.9,550.9 790.9,548.5 791.8,546C792.8,543.6 793.7,541.1 794.5,538.6C795.4,536.1 796.2,533.7 797,531.2C797.8,528.7 798.5,526.2 799.1,523.6C799.8,521.1 800.4,518.5 800.7,515.9C801.1,513.3 801.4,510.7 801.5,508C801.7,505.3 801.5,502.6 801.7,499.9C801.8,497.2 801.8,494.4 802.3,491.8C802.8,489.1 803.4,486.3 804.5,484C805.6,481.7 807.1,479.4 809,477.8C810.9,476.1 813.3,474.8 815.7,474C818.1,473.3 820.9,472.9 823.5,473.1C826.1,473.2 828.8,473.9 831.2,475C833.6,476.1 835.9,477.8 837.8,479.6C839.8,481.5 841.4,483.7 842.7,486C843.9,488.3 844.7,490.8 845.4,493.3C846,495.9 846.2,498.6 846.4,501.2C846.6,503.9 846.6,506.6 846.6,509.2C846.6,511.9 846.5,514.6 846.4,517.2C846.3,519.8 846.2,522.4 846.1,525.1C846,527.7 845.9,530.3 845.8,532.9C845.7,535.5 845.6,538.2 845.5,540.8C845.5,543.5 845.5,547.5 845.5,548.8L929.5,535C929.5,533.9 929.3,530.6 929.3,528.5C929.3,526.3 929.2,524.2 929.2,522C929.2,519.9 929.3,517.8 929.3,515.6C929.3,513.5 929.3,511.4 929.4,509.2C929.4,507.1 929.5,505 929.6,502.8C929.6,500.7 929.7,498.5 929.8,496.4C929.9,494.2 929.9,492 930.1,489.9C930.3,487.7 930.5,485.5 931,483.4C931.5,481.3 932.2,479.2 933.1,477.2C934,475.2 935.2,473.2 936.6,471.6C937.9,469.9 939.5,468.3 941.3,467.2C943,466 945.1,465.1 947.1,464.6C949.1,464.1 951.3,464.1 953.3,464.4C955.3,464.7 957.4,465.4 959.2,466.4C961.1,467.4 962.9,468.8 964.4,470.3C965.9,471.8 967.4,473.6 968.5,475.4C969.6,477.3 970.5,479.3 971.2,481.3C971.9,483.3 972.3,485.4 972.6,487.6C972.9,489.7 973,491.9 973.1,494.1C973.2,496.3 973.2,498.5 973.3,500.7C973.4,502.9 973.4,505.1 973.6,507.2C973.8,509.4 974.1,511.5 974.4,513.6C974.8,515.8 975.3,517.8 975.8,519.9C976.3,522 976.9,524 977.5,526.1C978.1,528.1 978.7,530.2 979.3,532.2C980,534.2 980.6,536.3 981.3,538.3C981.9,540.4 982.6,542.4 983.3,544.4C984,546.5 984.7,548.5 985.4,550.6C986.1,552.6 986.8,554.6 987.5,556.7C988.1,558.7 988.8,560.8 989.5,562.8C990.2,564.8 990.9,566.9 991.5,568.9C992.2,571 992.8,573 993.5,575.1C994.1,577.2 994.7,579.2 995.3,581.3C995.9,583.4 996.4,585.4 996.9,587.5C997.5,589.6 997.9,591.7 998.4,593.8C998.9,595.9 999.3,598 999.7,600.1C1000.2,602.2 1000.6,604.3 1001,606.5C1001.4,608.6 1001.7,610.7 1002.1,612.8C1002.5,614.9 1002.9,617 1003.3,619.1C1003.7,621.3 1004.1,623.4 1004.6,625.5C1005,627.6 1005.4,629.7 1005.9,631.8C1006.4,633.9 1006.9,635.9 1007.5,638C1008,640.1 1008.6,642.2 1009.3,644.2C1009.9,646.3 1010.6,648.3 1011.2,650.4C1011.9,652.4 1012.6,654.4 1013.3,656.5C1014.1,658.5 1014.8,660.5 1015.5,662.5C1016.3,664.6 1017,666.6 1017.8,668.6C1018.5,670.6 1019.3,672.6 1020,674.7C1020.8,676.7 1021.6,678.7 1022.4,680.7C1023.2,682.7 1023.9,684.7 1024.8,686.7C1025.6,688.7 1026.4,690.7 1027.2,692.6C1028,694.6 1028.9,696.6 1029.8,698.6C1030.6,700.5 1031.5,702.5 1032.4,704.5C1033.3,706.4 1034.2,708.4 1035.1,710.3C1036,712.2 1036.9,714.2 1037.9,716.1C1038.8,718 1039.8,719.9 1040.8,721.8C1041.8,723.7 1042.8,725.6 1043.8,727.5C1044.9,729.4 1045.9,731.3 1047,733.1C1048.1,735 1049.2,736.8 1050.3,738.7C1051.4,740.5 1052.5,742.3 1053.7,744.1C1054.9,745.9 1056.1,747.7 1057.3,749.5C1058.5,751.3 1059.7,753.1 1060.9,754.9C1062.2,756.6 1063.4,758.4 1064.7,760.1C1065.9,761.9 1067.2,763.6 1068.5,765.4C1069.8,767.1 1071.1,768.8 1072.4,770.6C1073.7,772.3 1075,774 1076.3,775.7C1077.6,777.5 1078.9,779.2 1080.2,780.9C1081.5,782.6 1082.9,784.3 1084.2,786C1085.5,787.7 1086.8,789.4 1088.1,791.1C1089.3,792.8 1090.6,794.6 1091.9,796.3C1093.2,798 1095.1,800.5 1095.7,801.4Z"/></clipPath>
<path id="bn2" d="M1162.1,802.5L1163,800.1L1163.9,797.7L1164.9,795.3L1165.9,792.9L1166.9,790.5L1168,788.2L1169.1,785.8L1170.2,783.5L1171.3,781.2L1172.5,778.9L1173.7,776.6L1174.9,774.3L1176.1,772L1177.3,769.7L1178.6,767.5L1179.9,765.2L1181.2,762.9L1182.5,760.7L1183.8,758.4L1185.1,756.2L1186.4,753.9L1187.7,751.7L1189,749.4L1190.3,747.2L1191.7,745L1193,742.7L1194.3,740.5L1195.6,738.2L1196.9,736L1198.2,733.7L1199.4,731.4L1200.7,729.2L1201.9,726.9L1203.2,724.6L1204.4,722.3L1205.6,720L1206.7,717.7L1207.9,715.4L1209,713L1210,710.7L1211.1,708.3L1212.1,706L1213.1,703.6L1214.1,701.2L1215,698.8L1215.9,696.4L1216.7,693.9L1217.6,691.5L1218.4,689L1219.1,686.5L1219.9,684L1220.6,681.6L1221.4,679.1L1222.1,676.6L1222.8,674.1L1223.5,671.6L1224.2,669.1L1225,666.6L1225.7,664.1L1226.4,661.6L1227.2,659.1L1228,656.7L1228.8,654.2L1229.6,651.7L1230.4,649.3L1231.3,646.9L1232.2,644.5L1233.2,642.1L1234.2,639.7L1235.2,637.3L1236.3,635L1237.5,632.7L1238.6,630.4L1239.9,628.1L1241.1,625.8L1242.4,623.6L1243.6,621.3L1244.9,619L1246.2,616.8L1247.4,614.5L1248.6,612.2L1249.8,609.9L1251,607.6L1252.1,605.3L1253.1,602.9L1254.1,600.5L1254.9,598.1L1255.7,595.6L1256.5,593.1L1257.2,590.6L1257.9,588.1L1258.6,585.6L1259.4,583.2L1260.2,580.7L1261,578.3L1261.8,575.8L1262.6,573.4L1263.5,571L1264.4,568.6L1265.2,566.1L1266,563.7L1266.9,561.2L1267.6,558.7L1268.4,556.2L1269.2,553.7L1270,551.2L1270.8,548.7L1271.7,546.2L1272.7,543.8L1273.8,541.5L1275,539.2L1276.3,537L1277.9,534.9L1279.6,532.9L1281.5,531.1L1283.5,529.8L1285.8,529.5L1288.1,530.2L1290.3,531.6L1292.1,533.6L1293.6,535.9L1294.8,538.4L1295.8,540.9L1296.5,543.4L1297,546L1297.4,548.5L1297.7,551.1L1298,553.6L1298.1,556.2L1298.3,558.8L1298.4,561.3L1298.4,563.9L1298.5,566.5L1298.5,569.1L1298.4,571.6L1298.4,574.2L1298.3,576.8L1298.3,579.4L1298.2,582L1298.1,584.6L1298,587.2L1297.9,589.8L1297.8,592.4L1297.7,595L1297.6,597.6L1297.5,600.2L1297.5,602.8L1297.4,605.4L1297.4,607.9L1297.4,610.5L1297.4,613.1L1297.5,615.7L1297.6,618.3L1297.7,620.9L1297.9,623.4L1298.1,626L1298.4,628.6L1298.7,631.1L1299.1,633.7L1299.5,636.2L1300,638.7L1300.5,641.3L1301.1,643.8L1301.7,646.3L1302.3,648.9L1302.9,651.4L1303.5,653.9L1304.1,656.4L1304.7,658.9L1305.3,661.4L1306,664L1306.6,666.5L1307.3,668.9L1308,671.4L1308.7,673.9L1309.5,676.4L1310.3,678.8L1311.1,681.3L1312,683.7L1312.9,686.1L1313.9,688.6L1314.9,691L1315.9,693.3L1317,695.7L1318.1,698.1L1319.2,700.4L1320.4,702.8L1321.5,705.1L1322.8,707.4L1324,709.6L1325.2,711.9L1326.5,714.1L1327.8,716.4L1329.2,718.6L1330.5,720.7L1331.9,722.9L1333.3,725L1334.8,727.1L1336.3,729.2L1337.8,731.3L1339.4,733.4L1341,735.4L1342.6,737.4L1344.3,739.4L1346.1,741.3L1347.9,743.3L1349.7,745.2L1351.6,747L1353.6,748.8L1355.7,750.4L1357.9,751.7L1360.2,752.2L1362.6,751.8L1365.1,750.7L1367.4,749.2L1369.5,747.6L1371.4,745.8L1373.2,744L1374.8,742L1376.2,740L1377.5,737.8L1378.7,735.6L1379.8,733.3L1380.7,731L1381.5,728.6L1382.3,726.1L1382.9,723.6L1383.5,721.1L1384,718.5L1384.5,715.9L1384.9,713.3L1385.2,710.7L1385.6,708.1L1385.9,705.5L1386.2,702.9L1386.4,700.3L1386.7,697.7L1386.9,695.1L1387.1,692.5L1387.3,689.9L1387.5,687.3L1387.6,684.7L1387.8,682.1L1387.9,679.5L1388,676.9L1388.2,674.3L1388.3,671.7L1388.4,669.2L1388.5,666.6L1388.6,664L1388.7,661.4L1388.9,658.8L1389,656.3L1389.1,653.7L1389.2,651.1L1389.4,648.5L1389.5,646L1389.7,643.4L1389.8,640.9L1390,638.3L1390.2,635.7L1390.4,633.2L1390.7,630.6L1390.9,628.1L1391.2,625.5L1391.5,622.9L1391.8,620.4L1392.2,617.8L1392.6,615.3L1393,612.7L1393.4,610.2L1393.9,607.6L1394.3,605.1L1394.8,602.6L1395.3,600L1395.9,597.5L1396.4,595L1397,592.4L1397.6,589.9L1398.2,587.4L1398.9,584.8L1399.5,582.3L1400.2,579.8L1400.8,577.3L1401.5,574.7L1402.2,572.2L1402.9,569.7L1403.6,567.2L1404.4,564.7L1405.1,562.2L1405.8,559.7L1406.6,557.2L1407.4,554.7L1408.2,552.3L1409.1,549.8L1410,547.4L1411,545.1L1412.1,542.8L1413.4,540.6L1414.7,538.4L1416.3,536.3L1418,534.3L1419.8,532.5L1421.9,530.7L1424.1,529.3L1426.4,528.6L1428.7,528.9L1431,529.9L1433.2,531.5L1435.1,533.5L1436.8,535.7L1438.2,538.1L1439.4,540.4L1440.4,542.9L1441.3,545.3L1442,547.7L1442.7,550.2L1443.3,552.7L1443.9,555.2L1444.4,557.7L1445,560.2L1445.6,562.7L1446.1,565.2L1446.6,567.7L1447.2,570.2L1447.7,572.8L1448.2,575.3L1448.7,577.8L1449.2,580.4L1449.7,582.9L1450.2,585.4L1450.6,588L1451.1,590.5L1451.6,593.1L1452,595.7L1452.5,598.2L1453,600.8L1453.4,603.3L1453.8,605.9L1454.3,608.4L1454.7,611L1455.2,613.6L1455.6,616.1L1456,618.7L1456.5,621.2L1456.9,623.8L1457.4,626.3L1457.8,628.9L1458.2,631.4L1458.7,634L1459.1,636.5L1459.5,639L1460,641.6L1460.4,644.1L1460.9,646.7L1461.4,649.2L1461.8,651.7L1462.3,654.3L1462.8,656.8L1463.2,659.3L1463.7,661.9L1464.2,664.4L1464.7,667L1465.2,669.5L1465.8,672L1466.3,674.6L1466.9,677.1L1467.4,679.6L1468,682.1L1468.6,684.7L1469.2,687.2L1469.8,689.7L1470.4,692.2L1471,694.7L1471.7,697.2L1472.4,699.7L1473.1,702.2L1473.8,704.7L1474.5,707.2L1475.2,709.7L1476,712.2L1476.8,714.6L1477.6,717.1L1478.4,719.5L1479.2,722L1480,724.4L1480.9,726.9L1481.7,729.3L1482.6,731.7L1483.5,734.2L1484.4,736.6L1485.4,739L1486.3,741.4L1487.3,743.8L1488.2,746.2L1489.2,748.6L1490.2,751L1491.2,753.4L1492.2,755.8L1493.2,758.1L1494.2,760.5L1495.3,762.9L1496.3,765.2L1497.4,767.6L1498.5,770L1499.6,772.3L1500.7,774.6L1501.8,777L1502.9,779.3L1504,781.7L1505.1,784L1506.3,786.3L1507.4,788.6L1508.6,790.9L1509.7,793.3L1510.9,795.6L1512.1,797.9L1513.3,800.2L1514.4,802.5Z"/><clipPath id="cb2"><use href="#bn2"/></clipPath>
<clipPath id="cg2"><path d="M1116.3,801.4C1117,800.3 1119,797.2 1120.4,795.1C1121.7,793 1123.1,790.9 1124.5,788.8C1126,786.7 1127.4,784.6 1128.8,782.6C1130.3,780.5 1131.7,778.5 1133.2,776.4C1134.7,774.4 1136.2,772.3 1137.7,770.3C1139.2,768.3 1140.7,766.2 1142.2,764.2C1143.7,762.2 1145.2,760.2 1146.7,758.1C1148.2,756.1 1149.7,754.1 1151.3,752.1C1152.8,750.1 1154.3,748.1 1155.8,746C1157.3,744 1158.9,742 1160.4,740C1161.9,737.9 1163.4,735.9 1164.9,733.9C1166.4,731.8 1167.9,729.8 1169.4,727.8C1170.8,725.7 1172.3,723.7 1173.8,721.6C1175.2,719.5 1176.6,717.5 1178.1,715.4C1179.5,713.3 1180.9,711.2 1182.3,709.1C1183.7,707 1185,704.9 1186.4,702.8C1187.7,700.7 1189,698.5 1190.3,696.4C1191.6,694.2 1192.9,692.1 1194.1,689.9C1195.4,687.7 1196.6,685.5 1197.8,683.3C1199,681.1 1200.1,678.8 1201.3,676.6C1202.4,674.4 1203.6,672.1 1204.7,669.8C1205.8,667.6 1206.9,665.3 1208,663.1C1209.1,660.8 1210.1,658.5 1211.2,656.2C1212.3,653.9 1213.4,651.7 1214.5,649.4C1215.6,647.1 1216.6,644.8 1217.7,642.5C1218.8,640.3 1219.9,638 1221,635.7C1222.2,633.5 1223.3,631.2 1224.4,629C1225.5,626.7 1226.7,624.5 1227.8,622.2C1229,620 1230.1,617.7 1231.2,615.5C1232.4,613.2 1233.5,611 1234.6,608.7C1235.7,606.4 1236.8,604.2 1237.9,601.9C1238.9,599.6 1240,597.3 1241,595C1242,592.7 1243,590.4 1243.9,588.1C1244.9,585.7 1245.8,583.4 1246.7,581C1247.5,578.7 1248.4,576.3 1249.2,573.9C1250,571.5 1250.8,569.1 1251.6,566.7C1252.3,564.3 1253,561.9 1253.7,559.4C1254.4,557 1255,554.6 1255.6,552.1C1256.2,549.6 1256.7,547.1 1257.2,544.7C1257.6,542.2 1258,539.7 1258.2,537.2C1258.4,534.7 1258.5,532.2 1258.4,529.7C1258.4,527.2 1258,524.7 1257.8,522.2C1257.6,519.6 1257.3,517.1 1257.3,514.6C1257.4,512 1257.6,509.3 1258.2,506.8C1258.8,504.3 1259.6,501.7 1260.9,499.6C1262.1,497.5 1263.7,495.5 1265.6,494.1C1267.5,492.7 1270,491.7 1272.4,491.3C1274.8,491 1277.5,491.2 1280,491.7C1282.4,492.3 1284.9,493.4 1287.1,494.7C1289.3,496 1291.4,497.7 1293.1,499.6C1294.9,501.4 1296.4,503.6 1297.7,505.8C1298.9,508 1299.8,510.3 1300.6,512.7C1301.5,515 1302.1,517.5 1302.9,519.9C1303.7,522.3 1304.3,524.7 1305.3,526.9C1306.2,529.2 1307.2,531.5 1308.7,533.5C1310.1,535.5 1313.1,538.1 1314,539L1393,545C1393.6,544 1395.6,541.2 1396.6,539.3C1397.7,537.3 1398.4,535.2 1399.1,533.2C1399.9,531.1 1400.4,529 1401.1,526.9C1401.7,524.8 1402.3,522.6 1403.1,520.5C1403.8,518.4 1404.6,516.3 1405.6,514.3C1406.5,512.3 1407.6,510.3 1408.9,508.4C1410.2,506.5 1411.7,504.6 1413.3,503C1414.9,501.3 1416.6,499.7 1418.5,498.4C1420.3,497.2 1422.3,496 1424.3,495.2C1426.4,494.5 1428.5,493.9 1430.6,493.8C1432.8,493.7 1435,493.9 1437.2,494.4C1439.3,494.9 1441.5,495.8 1443.4,496.9C1445.3,498 1447.2,499.5 1448.8,501C1450.3,502.6 1451.7,504.5 1452.7,506.4C1453.7,508.4 1454.3,510.5 1454.7,512.7C1455.1,514.9 1455.1,517.2 1455.2,519.4C1455.2,521.7 1454.9,524 1454.8,526.3C1454.6,528.5 1454.3,530.8 1454.1,533C1454,535.3 1453.9,537.5 1454,539.7C1454.1,541.9 1454.4,544.1 1454.8,546.3C1455.1,548.4 1455.5,550.6 1455.9,552.8C1456.3,555 1456.8,557.1 1457.2,559.3C1457.6,561.5 1458,563.7 1458.5,565.9C1458.9,568 1459.3,570.2 1459.8,572.4C1460.2,574.6 1460.6,576.8 1461.1,579C1461.5,581.2 1461.9,583.4 1462.4,585.5C1462.8,587.7 1463.2,589.9 1463.7,592.1C1464.1,594.3 1464.6,596.5 1465,598.7C1465.4,600.9 1465.9,603.1 1466.3,605.3C1466.7,607.5 1467.2,609.6 1467.6,611.8C1468,614 1468.4,616.2 1468.9,618.4C1469.3,620.6 1469.7,622.8 1470.1,624.9C1470.6,627.1 1471,629.3 1471.5,631.5C1472,633.6 1472.5,635.8 1473,637.9C1473.5,640.1 1474.1,642.2 1474.8,644.4C1475.4,646.5 1476.1,648.6 1476.8,650.7C1477.5,652.8 1478.2,655 1479,657.1C1479.7,659.2 1480.4,661.3 1481.2,663.4C1482,665.5 1482.7,667.6 1483.5,669.7C1484.3,671.8 1485.1,673.8 1485.9,675.9C1486.7,678 1487.5,680.1 1488.3,682.2C1489.1,684.2 1490,686.3 1490.8,688.4C1491.6,690.4 1492.5,692.5 1493.4,694.5C1494.2,696.6 1495.1,698.6 1496,700.7C1496.9,702.7 1497.9,704.7 1498.8,706.7C1499.7,708.8 1500.7,710.8 1501.7,712.8C1502.6,714.8 1503.6,716.8 1504.6,718.7C1505.6,720.7 1506.7,722.7 1507.7,724.6C1508.8,726.6 1509.8,728.6 1510.9,730.5C1512,732.4 1513.1,734.3 1514.3,736.3C1515.4,738.2 1516.6,740.1 1517.8,742C1518.9,743.8 1520.2,745.7 1521.4,747.6C1522.6,749.4 1523.9,751.3 1525.1,753.1C1526.4,755 1527.7,756.8 1529,758.6C1530.3,760.4 1531.6,762.3 1532.9,764.1C1534.3,765.9 1535.6,767.7 1536.9,769.5C1538.3,771.2 1539.6,773 1541,774.8C1542.3,776.6 1543.7,778.4 1545,780.1C1546.4,781.9 1547.8,783.7 1549.1,785.5C1550.5,787.2 1551.8,789 1553.1,790.8C1554.5,792.5 1555.8,794.3 1557.2,796.1C1558.5,797.9 1560.4,800.5 1561.1,801.4Z"/></clipPath>
<path id="bn3" d="M1629.6,802.5L1630.5,800.7L1631.4,799L1632.3,797.2L1633.2,795.4L1634.1,793.7L1635,791.9L1635.8,790.1L1636.7,788.4L1637.6,786.6L1638.5,784.8L1639.4,783.1L1640.3,781.3L1641.2,779.5L1642.1,777.8L1643,776L1643.9,774.2L1644.8,772.5L1645.8,770.7L1646.7,769L1647.6,767.2L1648.5,765.4L1649.4,763.7L1650.3,761.9L1651.2,760.1L1652.1,758.4L1653,756.6L1653.9,754.9L1654.8,753.1L1655.7,751.3L1656.6,749.6L1657.6,747.8L1658.5,746L1659.4,744.3L1660.3,742.5L1661.2,740.8L1662.1,739L1663,737.2L1663.9,735.5L1664.8,733.7L1665.7,731.9L1666.6,730.2L1667.4,728.4L1668.3,726.6L1669.2,724.8L1670.1,723.1L1671,721.3L1671.9,719.5L1672.8,717.7L1673.6,716L1674.5,714.2L1675.4,712.4L1676.3,710.6L1677.1,708.9L1678,707.1L1678.8,705.3L1679.7,703.5L1680.6,701.7L1681.4,699.9L1682.3,698.1L1683.1,696.3L1683.9,694.5L1684.8,692.8L1685.6,691L1686.4,689.2L1687.3,687.4L1688.1,685.6L1688.9,683.8L1689.7,681.9L1690.5,680.1L1691.3,678.3L1692.1,676.5L1692.9,674.7L1693.7,672.9L1694.5,671.1L1695.3,669.3L1696.1,667.4L1696.9,665.6L1697.7,663.8L1698.4,662L1699.2,660.2L1700,658.3L1700.8,656.5L1701.5,654.7L1702.3,652.9L1703,651L1703.8,649.2L1704.6,647.4L1705.3,645.5L1706.1,643.7L1706.8,641.9L1707.6,640L1708.3,638.2L1709,636.4L1709.8,634.5L1710.5,632.7L1711.2,630.8L1712,629L1712.7,627.2L1713.5,625.4L1714.4,623.6L1715.3,621.8L1716.3,620.1L1717.3,618.4L1718.5,616.8L1719.8,615.2L1721.2,613.7L1722.6,612.3L1724.2,611.1L1725.9,610L1727.7,609.3L1729.5,608.8L1731.5,608.6L1733.5,608.7L1735.5,609.1L1737.4,609.7L1739.3,610.5L1741.2,611.3L1742.9,612.3L1744.5,613.4L1746.1,614.6L1747.6,615.8L1749.1,617.2L1750.4,618.6L1751.7,620.1L1753,621.6L1754.2,623.2L1755.4,624.8L1756.5,626.4L1757.6,628.1L1758.6,629.8L1759.7,631.5L1760.7,633.3L1761.6,635L1762.5,636.7L1763.5,638.5L1764.3,640.3L1765.2,642.1L1766,643.9L1766.8,645.7L1767.6,647.5L1768.4,649.3L1769.2,651.1L1769.9,653L1770.6,654.8L1771.3,656.7L1772,658.5L1772.7,660.4L1773.4,662.2L1774,664.1L1774.7,666L1775.3,667.9L1775.9,669.7L1776.6,671.6L1777.2,673.5L1777.8,675.4L1778.5,677.3L1779.1,679.2L1779.7,681L1780.3,682.9L1781,684.8L1781.6,686.7L1782.2,688.6L1782.9,690.4L1783.5,692.3L1784.2,694.2L1784.9,696L1785.5,697.9L1786.2,699.7L1786.9,701.6L1787.7,703.4L1788.4,705.2L1789.2,707.1L1790,708.9L1790.8,710.7L1791.6,712.5L1792.4,714.2L1793.3,716L1794.2,717.8L1795.1,719.5L1796,721.3L1797,723L1798,724.7L1799,726.4L1800.1,728.1L1801.2,729.8L1802.3,731.4L1803.5,733L1804.7,734.7L1805.9,736.2L1807.2,737.8L1808.5,739.3L1809.9,740.8L1811.2,742.3L1812.7,743.7L1814.1,745L1815.6,746.3L1817.1,747.6L1818.7,748.8L1820.3,749.9L1821.9,751L1823.7,751.7L1825.4,752L1827.3,751.8L1829.2,751.1L1831,750.2L1832.7,749.2L1834.2,748L1835.7,746.6L1837.1,745.2L1838.3,743.7L1839.5,742.1L1840.6,740.4L1841.6,738.6L1842.5,736.8L1843.3,734.9L1844.1,733L1844.9,731.1L1845.6,729.2L1846.2,727.3L1846.8,725.4L1847.3,723.5L1847.9,721.6L1848.4,719.6L1848.8,717.7L1849.2,715.8L1849.6,713.9L1850,712L1850.3,710.1L1850.6,708.1L1850.9,706.2L1851.1,704.3L1851.4,702.4L1851.6,700.4L1851.8,698.5L1852,696.6L1852.2,694.6L1852.4,692.7L1852.5,690.7L1852.7,688.8L1852.9,686.8L1853,684.9L1853.2,682.9L1853.3,680.9L1853.5,678.9L1853.6,676.9L1853.8,674.9L1854,672.9L1854.2,670.9L1854.4,668.9L1854.6,666.9L1854.8,664.9L1855.1,662.8L1855.3,660.8L1855.6,658.8L1855.9,656.8L1856.3,654.8L1856.7,652.8L1857.1,650.8L1857.5,648.8L1858,646.9L1858.5,644.9L1859,643L1859.6,641.1L1860.2,639.2L1860.9,637.4L1861.6,635.6L1862.4,633.8L1863.2,632L1864.1,630.3L1865,628.6L1866,626.9L1867,625.3L1868.1,623.7L1869.3,622.2L1870.5,620.7L1871.8,619.3L1873.2,617.9L1874.6,616.5L1876.1,615.2L1877.7,614L1879.4,612.8L1881.1,611.8L1882.9,610.8L1884.7,609.9L1886.6,609.1L1888.4,608.5L1890.4,608.1L1892.3,607.9L1894.2,607.8L1896.1,608L1898.1,608.4L1899.9,608.9L1901.8,609.6L1903.6,610.5L1905.4,611.5L1907.1,612.6L1908.8,613.9L1910.3,615.3L1911.8,616.7L1913.3,618.2L1914.6,619.8L1915.8,621.5L1916.9,623.1L1917.8,624.8L1918.7,626.6L1919.5,628.3L1920.2,630.1L1920.8,631.9L1921.4,633.7L1921.9,635.6L1922.4,637.4L1922.9,639.3L1923.4,641.2L1923.9,643.1L1924.3,645L1924.8,646.9L1925.2,648.9L1925.7,650.8L1926.1,652.7L1926.6,654.7L1927,656.6L1927.5,658.6L1927.9,660.5L1928.4,662.5L1928.8,664.4L1929.3,666.4L1929.8,668.3L1930.2,670.2L1930.7,672.2L1931.2,674.1L1931.7,676L1932.2,678L1932.7,679.9L1933.2,681.8L1933.7,683.7L1934.2,685.7L1934.8,687.6L1935.3,689.5L1935.8,691.4L1936.4,693.3L1936.9,695.2L1937.5,697.1L1938,699L1938.6,700.9L1939.1,702.8L1939.7,704.7L1940.3,706.6L1940.9,708.5L1941.5,710.4L1942,712.3L1942.6,714.2L1943.2,716.1L1943.8,717.9L1944.5,719.8L1945.1,721.7L1945.7,723.6L1946.3,725.4L1947,727.3L1947.6,729.2L1948.3,731L1948.9,732.9L1949.6,734.8L1950.2,736.6L1950.9,738.5L1951.6,740.4L1952.2,742.2L1952.9,744.1L1953.6,745.9L1954.3,747.8L1955,749.6L1955.7,751.5L1956.4,753.3L1957.1,755.1L1957.9,757L1958.6,758.8L1959.3,760.7L1960,762.5L1960.8,764.3L1961.5,766.2L1962.3,768L1963,769.8L1963.8,771.6L1964.6,773.5L1965.4,775.3L1966.1,777.1L1966.9,778.9L1967.7,780.8L1968.5,782.6L1969.3,784.4L1970.1,786.2L1970.9,788L1971.8,789.8L1972.6,791.6L1973.4,793.4L1974.2,795.3L1975.1,797.1L1975.9,798.9L1976.8,800.7L1977.5,802.5Z"/><clipPath id="cb3"><use href="#bn3"/></clipPath>
<clipPath id="cg3"><path d="M1583.3,801.4C1584.3,800.8 1587.4,799.1 1589.3,797.8C1591.2,796.5 1592.9,795 1594.6,793.5C1596.3,792 1597.9,790.4 1599.4,788.8C1601,787.1 1602.4,785.4 1603.8,783.6C1605.2,781.8 1606.6,779.9 1607.9,778.1C1609.2,776.2 1610.4,774.3 1611.7,772.3C1612.9,770.4 1614.1,768.4 1615.4,766.5C1616.6,764.6 1617.8,762.6 1619,760.7C1620.2,758.7 1621.5,756.8 1622.7,754.8C1623.9,752.9 1625.1,751 1626.4,749.1C1627.6,747.1 1628.8,745.2 1630,743.3C1631.2,741.3 1632.4,739.4 1633.6,737.5C1634.8,735.5 1636,733.6 1637.2,731.6C1638.3,729.7 1639.5,727.7 1640.6,725.7C1641.7,723.8 1642.9,721.8 1644,719.8C1645.1,717.8 1646.2,715.8 1647.3,713.8C1648.4,711.8 1649.5,709.8 1650.6,707.8C1651.6,705.8 1652.7,703.8 1653.8,701.8C1654.8,699.7 1655.9,697.7 1657,695.7C1658,693.7 1659.1,691.7 1660.1,689.6C1661.2,687.6 1662.3,685.6 1663.3,683.6C1664.4,681.5 1665.4,679.5 1666.5,677.5C1667.6,675.5 1668.6,673.4 1669.7,671.4C1670.8,669.4 1671.9,667.4 1672.9,665.4C1674,663.4 1675.1,661.4 1676.2,659.4C1677.3,657.3 1678.4,655.3 1679.5,653.3C1680.6,651.3 1681.6,649.3 1682.7,647.3C1683.7,645.2 1684.7,643.2 1685.7,641.1C1686.7,639.1 1687.6,637 1688.4,634.9C1689.3,632.8 1690.1,630.7 1690.9,628.5C1691.6,626.4 1692.3,624.2 1693,622C1693.6,619.8 1694.3,617.6 1694.9,615.4C1695.6,613.2 1696.2,611 1696.8,608.8C1697.5,606.6 1698.2,604.5 1698.8,602.3C1699.5,600.1 1700.2,598 1700.8,595.8C1701.4,593.6 1702,591.4 1702.4,589.2C1702.9,586.9 1703.3,584.7 1703.6,582.4C1703.9,580.1 1704.1,577.8 1704.4,575.5C1704.6,573.2 1704.8,570.9 1705.1,568.6C1705.4,566.3 1705.7,564.1 1706.1,561.8C1706.6,559.6 1707.1,557.4 1707.8,555.3C1708.6,553.1 1709.4,551 1710.5,549C1711.6,547.1 1712.9,545.1 1714.4,543.3C1715.9,541.6 1717.5,539.9 1719.3,538.5C1721.1,537 1723.1,535.7 1725.1,534.7C1727.2,533.7 1729.4,532.9 1731.6,532.4C1733.9,531.9 1736.3,531.7 1738.7,531.8C1741,531.9 1743.5,532.3 1745.6,533C1747.8,533.7 1750,534.8 1751.8,536.1C1753.6,537.3 1755.3,539 1756.5,540.7C1757.8,542.5 1758.8,544.5 1759.5,546.6C1760.3,548.6 1760.7,550.9 1761.1,553.2C1761.5,555.4 1761.7,557.8 1761.9,560.1C1762.1,562.4 1762.3,564.7 1762.4,567C1762.6,569.3 1762.7,571.6 1762.8,573.9C1763,576.2 1763.2,578.5 1763.4,580.7C1763.7,583 1763.9,585.2 1764.3,587.5C1764.7,589.7 1765.2,591.9 1765.8,594C1766.5,596.2 1767.2,598.3 1768.1,600.3C1769.1,602.4 1770.2,604.4 1771.4,606.4C1772.6,608.4 1774.1,610.3 1775.4,612.2C1776.6,614.2 1778.4,617 1779,618L1841,619C1842,618.4 1845.4,616.9 1847.2,615.5C1849.1,614.1 1850.5,612.3 1851.9,610.5C1853.2,608.7 1854.3,606.6 1855.3,604.5C1856.4,602.4 1857.2,600.1 1858.1,597.9C1859,595.8 1859.8,593.5 1860.6,591.4C1861.5,589.2 1862.3,587.1 1863.2,584.9C1864.1,582.8 1864.9,580.7 1865.9,578.6C1866.8,576.4 1867.8,574.3 1868.9,572.1C1869.9,570 1871,567.8 1872.2,565.7C1873.5,563.6 1874.7,561.6 1876.2,559.7C1877.6,557.8 1879.1,555.9 1880.7,554.3C1882.4,552.7 1884.1,551.1 1886,549.9C1887.9,548.6 1890,547.5 1892.2,546.8C1894.4,546 1896.7,545.5 1899,545.4C1901.3,545.2 1903.8,545.5 1906,546C1908.3,546.6 1910.5,547.5 1912.5,548.6C1914.5,549.7 1916.3,551.2 1918,552.8C1919.6,554.4 1921,556.3 1922.3,558.3C1923.6,560.2 1924.7,562.4 1925.6,564.6C1926.6,566.7 1927.4,569 1928.1,571.3C1928.8,573.6 1929.3,575.9 1929.8,578.2C1930.3,580.5 1930.6,582.8 1930.9,585.1C1931.3,587.4 1931.5,589.7 1931.8,592C1932.1,594.3 1932.3,596.6 1932.6,598.9C1932.8,601.2 1933.1,603.5 1933.5,605.8C1933.9,608.1 1934.3,610.4 1934.8,612.6C1935.3,614.9 1935.9,617.2 1936.5,619.4C1937.1,621.7 1937.7,623.9 1938.4,626.2C1939.1,628.4 1939.8,630.7 1940.5,632.9C1941.3,635.1 1942,637.4 1942.7,639.6C1943.5,641.8 1944.2,644 1945,646.2C1945.7,648.5 1946.5,650.7 1947.3,652.9C1948,655.1 1948.8,657.3 1949.6,659.5C1950.4,661.7 1951.2,663.9 1952.1,666C1952.9,668.2 1953.7,670.4 1954.6,672.6C1955.4,674.7 1956.3,676.9 1957.2,679.1C1958.1,681.2 1959,683.4 1959.9,685.5C1960.8,687.6 1961.8,689.8 1962.7,691.9C1963.7,694 1964.6,696.1 1965.6,698.2C1966.6,700.3 1967.6,702.4 1968.7,704.5C1969.7,706.6 1970.7,708.7 1971.8,710.8C1972.9,712.8 1973.9,714.9 1975,717C1976.1,719 1977.2,721.1 1978.3,723.1C1979.4,725.2 1980.6,727.2 1981.7,729.3C1982.8,731.3 1984,733.4 1985.1,735.4C1986.3,737.4 1987.4,739.4 1988.6,741.5C1989.8,743.5 1991,745.5 1992.1,747.5C1993.3,749.5 1994.5,751.5 1995.7,753.6C1996.9,755.6 1998.1,757.6 1999.3,759.6C2000.5,761.6 2001.7,763.6 2003,765.6C2004.2,767.6 2005.4,769.6 2006.6,771.6C2007.8,773.5 2009,775.5 2010.2,777.5C2011.5,779.5 2012.7,781.5 2013.9,783.5C2015.1,785.5 2016.3,787.5 2017.5,789.5C2018.7,791.5 2019.9,793.5 2021.1,795.5C2022.4,797.4 2024.2,800.4 2024.8,801.4Z"/></clipPath>
<path id="bn4" d="M2095.2,802.5L2095.9,801.1L2096.6,799.6L2097.2,798.1L2097.9,796.7L2098.6,795.2L2099.3,793.8L2100,792.3L2100.7,790.9L2101.4,789.4L2102.1,788L2102.8,786.6L2103.5,785.1L2104.2,783.7L2104.9,782.2L2105.7,780.8L2106.4,779.4L2107.1,777.9L2107.8,776.5L2108.5,775.1L2109.3,773.6L2110,772.2L2110.7,770.8L2111.5,769.4L2112.2,767.9L2112.9,766.5L2113.7,765.1L2114.4,763.6L2115.1,762.2L2115.9,760.8L2116.6,759.4L2117.4,757.9L2118.1,756.5L2118.8,755.1L2119.6,753.7L2120.3,752.2L2121,750.8L2121.8,749.4L2122.5,748L2123.3,746.5L2124,745.1L2124.7,743.7L2125.4,742.2L2126.2,740.8L2126.9,739.4L2127.6,738L2128.4,736.5L2129.1,735.1L2129.8,733.7L2130.5,732.2L2131.2,730.8L2131.9,729.3L2132.6,727.9L2133.3,726.5L2134.1,725L2134.8,723.6L2135.4,722.1L2136.1,720.7L2136.8,719.2L2137.5,717.8L2138.2,716.3L2138.9,714.8L2139.5,713.4L2140.2,711.9L2140.9,710.5L2141.6,709L2142.2,707.5L2142.9,706.1L2143.6,704.6L2144.3,703.2L2145,701.7L2145.7,700.3L2146.4,698.9L2147.1,697.4L2147.9,696L2148.6,694.6L2149.4,693.2L2150.1,691.8L2150.9,690.4L2151.7,689L2152.6,687.6L2153.4,686.3L2154.3,684.9L2155.1,683.6L2156,682.2L2157,680.9L2157.9,679.6L2158.9,678.3L2159.9,677.1L2160.9,675.8L2162,674.6L2163.1,673.3L2164.2,672.1L2165.3,671L2166.5,669.8L2167.7,668.7L2168.9,667.7L2170.1,666.7L2171.4,665.7L2172.7,664.8L2174.1,663.9L2175.5,663.2L2176.9,662.4L2178.3,661.8L2179.8,661.2L2181.3,660.7L2182.8,660.2L2184.4,659.9L2186,659.6L2187.6,659.4L2189.2,659.3L2190.8,659.3L2192.4,659.4L2194,659.5L2195.6,659.7L2197.2,660L2198.7,660.3L2200.3,660.8L2201.8,661.3L2203.3,661.9L2204.7,662.5L2206.2,663.2L2207.6,664L2208.9,664.8L2210.3,665.7L2211.6,666.7L2212.9,667.6L2214.1,668.7L2215.4,669.7L2216.6,670.9L2217.7,672L2218.9,673.2L2220,674.4L2221.1,675.6L2222.1,676.9L2223.2,678.1L2224.2,679.4L2225.1,680.7L2226.1,682L2227,683.4L2227.9,684.7L2228.7,686.1L2229.6,687.4L2230.5,688.8L2231.3,690.2L2232.1,691.5L2232.9,692.9L2233.7,694.3L2234.5,695.7L2235.3,697.1L2236.2,698.4L2237,699.8L2237.8,701.2L2238.6,702.6L2239.4,703.9L2240.2,705.3L2241.1,706.6L2241.9,708L2242.8,709.4L2243.6,710.7L2244.5,712L2245.4,713.4L2246.3,714.7L2247.2,716L2248.1,717.3L2249,718.6L2249.9,719.9L2250.8,721.2L2251.8,722.5L2252.8,723.7L2253.8,725L2254.7,726.2L2255.8,727.5L2256.8,728.7L2257.8,729.9L2258.9,731.1L2260,732.3L2261.1,733.5L2262.2,734.7L2263.3,735.8L2264.5,737L2265.7,738.1L2266.9,739.2L2268.1,740.3L2269.3,741.3L2270.6,742.4L2271.9,743.4L2273.2,744.3L2274.5,745.3L2275.9,746.2L2277.3,747.1L2278.7,747.9L2280.1,748.7L2281.6,749.5L2283.1,750.2L2284.6,750.8L2286.1,751.3L2287.6,751.6L2289.1,751.8L2290.6,751.9L2292,751.8L2293.5,751.4L2294.9,751L2296.2,750.3L2297.6,749.6L2298.8,748.7L2300.1,747.6L2301.2,746.5L2302.3,745.3L2303.3,744L2304.3,742.6L2305.2,741.2L2306,739.7L2306.8,738.2L2307.6,736.7L2308.3,735.2L2309,733.7L2309.6,732.2L2310.3,730.7L2310.9,729.3L2311.5,727.8L2312.1,726.3L2312.6,724.9L2313.1,723.4L2313.6,721.9L2314.1,720.4L2314.6,719L2315.1,717.5L2315.5,716L2315.9,714.5L2316.3,712.9L2316.7,711.4L2317.1,709.8L2317.5,708.2L2317.8,706.6L2318.2,705L2318.5,703.4L2318.9,701.8L2319.3,700.2L2319.6,698.5L2320,696.9L2320.4,695.3L2320.8,693.7L2321.3,692.1L2321.7,690.5L2322.2,688.9L2322.7,687.4L2323.3,685.8L2323.9,684.3L2324.5,682.9L2325.1,681.4L2325.9,680L2326.6,678.6L2327.4,677.3L2328.3,676L2329.2,674.8L2330.2,673.6L2331.2,672.4L2332.3,671.3L2333.5,670.3L2334.8,669.3L2336.1,668.4L2337.4,667.5L2338.8,666.7L2340.3,666L2341.8,665.4L2343.3,664.8L2344.9,664.3L2346.4,663.9L2348,663.6L2349.6,663.3L2351.2,663.1L2352.9,663.1L2354.5,663.1L2356.1,663.1L2357.7,663.3L2359.2,663.5L2360.8,663.8L2362.4,664.2L2364,664.6L2365.5,665.1L2367.1,665.7L2368.6,666.3L2370.2,666.9L2371.6,667.6L2373.1,668.4L2374.5,669.2L2375.9,670L2377.3,670.9L2378.6,671.9L2379.8,672.9L2381,673.9L2382.1,675L2383.2,676.2L2384.2,677.3L2385.2,678.5L2386.1,679.8L2387,681.1L2387.9,682.4L2388.7,683.7L2389.5,685.1L2390.3,686.5L2391,687.9L2391.7,689.4L2392.4,690.8L2393,692.3L2393.7,693.8L2394.3,695.3L2394.9,696.8L2395.5,698.3L2396.1,699.8L2396.7,701.3L2397.3,702.8L2397.9,704.3L2398.4,705.9L2399,707.4L2399.6,708.9L2400.2,710.4L2400.8,711.9L2401.3,713.4L2401.9,714.9L2402.5,716.4L2403.1,717.9L2403.7,719.5L2404.2,721L2404.8,722.5L2405.4,724L2406,725.5L2406.6,727L2407.1,728.5L2407.7,730L2408.3,731.4L2408.9,732.9L2409.4,734.4L2410,735.9L2410.6,737.4L2411.2,738.9L2411.8,740.4L2412.4,741.9L2412.9,743.4L2413.5,744.9L2414.1,746.3L2414.7,747.8L2415.3,749.3L2415.9,750.8L2416.5,752.3L2417.1,753.8L2417.7,755.3L2418.3,756.7L2418.8,758.2L2419.4,759.7L2420,761.2L2420.7,762.7L2421.3,764.1L2421.9,765.6L2422.5,767.1L2423.1,768.6L2423.7,770L2424.3,771.5L2424.9,773L2425.5,774.5L2426.2,775.9L2426.8,777.4L2427.4,778.9L2428.1,780.4L2428.7,781.9L2429.3,783.3L2430,784.8L2430.6,786.3L2431.2,787.7L2431.9,789.2L2432.5,790.7L2433.2,792.2L2433.9,793.6L2434.5,795.1L2435.2,796.6L2435.9,798.1L2436.5,799.5L2437.2,801L2437.8,802.5Z"/><clipPath id="cb4"><use href="#bn4"/></clipPath>
<clipPath id="cg4"><path d="M2049.2,801.4C2050.2,800.8 2053.3,799 2055.1,797.6C2057,796.2 2058.7,794.7 2060.3,793.1C2062,791.6 2063.5,789.9 2064.9,788.1C2066.4,786.4 2067.7,784.5 2069,782.7C2070.3,780.8 2071.6,778.8 2072.8,776.9C2074,775 2075.2,773 2076.3,771C2077.5,769 2078.7,767 2079.8,765C2081,763 2082.2,761 2083.3,759C2084.5,757 2085.6,755 2086.8,753C2087.9,751 2089.1,749.1 2090.2,747.1C2091.4,745.1 2092.5,743.1 2093.6,741.1C2094.7,739.1 2095.8,737.1 2096.9,735C2098,733 2099,731 2100.1,729C2101.2,727 2102.2,724.9 2103.3,722.9C2104.3,720.9 2105.3,718.8 2106.4,716.8C2107.4,714.8 2108.4,712.7 2109.5,710.7C2110.5,708.6 2111.5,706.6 2112.5,704.5C2113.6,702.5 2114.6,700.4 2115.6,698.4C2116.6,696.4 2117.7,694.3 2118.7,692.3C2119.8,690.2 2120.8,688.2 2121.9,686.1C2122.9,684.1 2124,682 2125.1,680C2126.2,678 2127.3,675.9 2128.3,673.9C2129.4,671.8 2130.5,669.8 2131.6,667.8C2132.6,665.7 2133.7,663.6 2134.7,661.6C2135.7,659.5 2136.7,657.4 2137.6,655.3C2138.5,653.3 2139.4,651.1 2140.2,649C2141.1,646.9 2141.9,644.8 2142.6,642.6C2143.3,640.4 2143.9,638.2 2144.4,636C2145,633.8 2145.5,631.6 2145.8,629.3C2146.2,627.1 2146.5,624.8 2146.7,622.5C2146.8,620.2 2146.9,617.9 2146.9,615.6C2146.9,613.3 2146.8,611 2146.7,608.7C2146.7,606.4 2146.6,604.1 2146.7,601.8C2146.7,599.5 2146.8,597.1 2147.2,594.9C2147.5,592.6 2147.9,590.4 2148.6,588.2C2149.3,586 2150.2,583.9 2151.3,581.9C2152.4,580 2153.8,578 2155.4,576.3C2156.9,574.6 2158.7,573 2160.6,571.7C2162.6,570.3 2164.7,569.1 2166.9,568.2C2169.1,567.3 2171.5,566.6 2173.8,566.1C2176.1,565.7 2178.5,565.5 2180.7,565.7C2182.9,565.8 2185.1,566.2 2187.3,566.8C2189.4,567.5 2191.4,568.4 2193.4,569.4C2195.3,570.5 2197.2,571.8 2199,573.2C2200.9,574.5 2202.6,576.1 2204.3,577.8C2205.9,579.4 2207.5,581.2 2209.1,582.9C2210.6,584.7 2212,586.6 2213.4,588.5C2214.8,590.3 2216.1,592.2 2217.3,594.1C2218.6,596.1 2219.8,598 2221,600C2222.2,601.9 2223.3,603.9 2224.5,605.9C2225.6,607.9 2226.7,609.9 2227.8,611.9C2228.9,613.8 2230,615.8 2231.2,617.8C2232.3,619.8 2233.4,621.8 2234.6,623.8C2235.8,625.7 2236.9,627.7 2238.2,629.6C2239.4,631.5 2240.7,633.4 2242,635.3C2243.3,637.2 2245.3,640.1 2246,641L2309,646C2309.6,645 2311.3,641.9 2312.4,639.7C2313.4,637.6 2314.4,635.5 2315.3,633.4C2316.2,631.2 2317.1,629.1 2317.9,627C2318.8,624.8 2319.6,622.7 2320.4,620.5C2321.2,618.3 2322,616.2 2322.9,614C2323.7,611.9 2324.5,609.7 2325.4,607.5C2326.3,605.3 2327.1,603.2 2328.1,601C2329.1,598.8 2330.1,596.6 2331.2,594.5C2332.3,592.3 2333.5,590.2 2334.7,588.2C2336,586.1 2337.4,584.2 2338.8,582.4C2340.3,580.6 2341.9,578.8 2343.6,577.3C2345.3,575.9 2347.2,574.5 2349.2,573.4C2351.2,572.4 2353.4,571.5 2355.6,570.9C2357.9,570.3 2360.3,570 2362.7,569.9C2365.1,569.8 2367.6,570 2369.9,570.4C2372.3,570.8 2374.7,571.5 2376.9,572.4C2379,573.3 2381.2,574.5 2383,575.9C2384.9,577.2 2386.6,578.9 2388,580.7C2389.5,582.5 2390.7,584.5 2391.6,586.5C2392.6,588.6 2393.2,590.9 2393.9,593.1C2394.5,595.4 2394.9,597.7 2395.4,600C2395.9,602.3 2396.3,604.6 2396.8,607C2397.3,609.3 2397.7,611.6 2398.2,613.9C2398.6,616.2 2399.1,618.5 2399.6,620.7C2400.1,623 2400.6,625.3 2401.1,627.6C2401.7,629.8 2402.2,632.1 2402.8,634.4C2403.4,636.6 2404,638.8 2404.7,641.1C2405.4,643.3 2406.1,645.5 2406.9,647.7C2407.6,649.9 2408.4,652.1 2409.3,654.3C2410.1,656.4 2411,658.6 2411.9,660.8C2412.8,662.9 2413.7,665.1 2414.7,667.2C2415.6,669.3 2416.6,671.5 2417.6,673.6C2418.6,675.7 2419.6,677.8 2420.6,680C2421.6,682.1 2422.7,684.2 2423.7,686.3C2424.7,688.4 2425.8,690.5 2426.8,692.6C2427.8,694.7 2428.9,696.8 2429.9,698.9C2430.9,701 2432,703.1 2433,705.2C2434.1,707.3 2435.1,709.4 2436.2,711.5C2437.2,713.6 2438.3,715.7 2439.3,717.8C2440.4,719.8 2441.5,721.9 2442.5,724C2443.6,726.1 2444.7,728.1 2445.8,730.2C2446.9,732.3 2448,734.3 2449.1,736.4C2450.2,738.5 2451.3,740.5 2452.4,742.5C2453.5,744.6 2454.7,746.6 2455.8,748.7C2457,750.7 2458.1,752.7 2459.3,754.7C2460.5,756.7 2461.6,758.8 2462.8,760.8C2464,762.8 2465.2,764.8 2466.5,766.7C2467.7,768.7 2468.9,770.7 2470.2,772.7C2471.5,774.6 2472.7,776.6 2474,778.5C2475.3,780.5 2476.6,782.4 2477.9,784.4C2479.3,786.3 2480.6,788.2 2482,790.1C2483.3,792 2484.7,793.9 2486.1,795.8C2487.5,797.7 2489.7,800.5 2490.4,801.4Z"/></clipPath>
</defs>
<rect width="2560" height="1106" fill="#fff"/>
<rect x="1034" y="77" width="492" height="84" fill="#fff" stroke="#3e3a39" stroke-width="2"/>
<text x="1095" y="137" font-size="57" textLength="368" lengthAdjust="spacing" stroke="#3e3a39" stroke-width="0.9" stroke-linejoin="round">歯周病の進行</text>

<rect x="306" y="243" width="203.6" height="35" fill="#8fcfe2"/>
<text class="l" x="337.8" y="270.6" textLength="139.5" lengthAdjust="spacing">正常な状態</text>
<rect x="771.4" y="243" width="203.6" height="35" fill="#9a8fc7"/>
<text class="l" x="831.3" y="270.6" textLength="83" lengthAdjust="spacing">歯肉炎</text>
<rect x="1236.8" y="243" width="203.6" height="35" fill="#e8529b"/>
<text class="l" x="1250.5" y="270.6" textLength="175" lengthAdjust="spacing">歯周炎（軽度）</text>
<rect x="1702.2" y="243" width="203.6" height="35" fill="#e4007f"/>
<text class="l" x="1717.5" y="270.6" textLength="174" lengthAdjust="spacing">歯周炎（中度）</text>
<rect x="2167.6" y="243" width="203.6" height="35" fill="#c30d5e"/>
<text class="l" x="2182" y="270.6" textLength="175.5" lengthAdjust="spacing">歯周炎（重度）</text>
<path d="M185.5,801.4C186.3,800.1 188.7,796.4 190.4,793.8C192.1,791.3 193.7,788.9 195.5,786.4C197.2,783.9 198.9,781.5 200.6,779C202.4,776.6 204.1,774.1 205.9,771.7C207.7,769.2 209.5,766.8 211.3,764.4C213.1,762 214.9,759.6 216.7,757.1C218.5,754.7 220.3,752.3 222.1,749.9C223.9,747.5 225.7,745.1 227.5,742.7C229.4,740.2 231.2,737.8 232.9,735.4C234.7,733 236.5,730.5 238.3,728.1C240,725.6 241.8,723.2 243.5,720.7C245.2,718.3 247,715.8 248.6,713.3C250.3,710.8 252,708.3 253.6,705.8C255.3,703.2 256.9,700.7 258.4,698.1C260,695.6 261.6,693 263.1,690.4C264.6,687.8 266.1,685.2 267.5,682.6C269,680 270.4,677.3 271.8,674.6C273.2,672 274.6,669.3 275.9,666.6C277.3,663.9 278.6,661.2 279.9,658.5C281.2,655.8 282.5,653.1 283.7,650.3C285,647.6 286.2,644.9 287.4,642.1C288.7,639.3 289.8,636.6 291,633.8C292.2,631 293.4,628.2 294.5,625.5C295.6,622.7 296.8,619.9 297.9,617.1C299,614.3 300.1,611.5 301.2,608.7C302.3,605.8 303.4,603 304.5,600.2C305.6,597.4 306.6,594.6 307.7,591.8C308.8,589 309.9,586.2 311,583.3C312.1,580.5 313.2,577.7 314.3,574.9C315.4,572.1 316.5,569.3 317.6,566.5C318.7,563.7 319.8,561 321,558.2C322.1,555.4 323.3,552.6 324.5,549.9C325.7,547.1 326.9,544.4 328.1,541.6C329.3,538.9 330.6,536.2 331.9,533.4C333.1,530.7 334.5,528 335.8,525.3C337.1,522.7 338.5,520 339.8,517.3C341.2,514.6 342.6,512 344,509.3C345.4,506.6 346.7,503.9 348.1,501.2C349.5,498.5 350.9,495.8 352.2,493.1C353.6,490.4 354.8,487.6 356.3,484.9C357.7,482.3 359.1,479.6 360.9,477.2C362.7,474.8 364.8,472.3 367.2,470.7C369.6,469.2 372.7,467.5 375.2,468C377.7,468.6 380.9,473 382,474L458.5,468C459.4,467.2 462.1,464.1 464.1,463C466.1,462 468.5,461.7 470.7,461.8C472.9,461.8 475.2,462.4 477.3,463.3C479.4,464.1 481.5,465.3 483.3,466.7C485.2,468 486.9,469.7 488.6,471.5C490.2,473.2 491.7,475.2 493.1,477.2C494.6,479.2 495.9,481.4 497.1,483.5C498.4,485.6 499.5,487.8 500.6,489.9C501.7,492.1 502.7,494.2 503.7,496.3C504.6,498.4 505.5,500.6 506.3,502.7C507.2,504.9 507.9,507.1 508.7,509.3C509.4,511.6 510.1,513.8 510.8,516.1C511.5,518.3 512.2,520.6 512.9,522.8C513.6,525.1 514.4,527.4 515.1,529.6C515.9,531.9 516.6,534.1 517.4,536.4C518.1,538.6 518.9,540.9 519.6,543.2C520.3,545.4 521.1,547.7 521.8,550C522.5,552.2 523.2,554.5 523.8,556.8C524.5,559.1 525.1,561.4 525.8,563.6C526.4,565.9 527,568.2 527.5,570.5C528.1,572.8 528.6,575.1 529.2,577.4C529.7,579.8 530.2,582.1 530.7,584.4C531.2,586.7 531.7,589 532.2,591.3C532.7,593.7 533.1,596 533.6,598.3C534.1,600.6 534.5,603 535,605.3C535.5,607.6 535.9,609.9 536.4,612.3C536.8,614.6 537.3,616.9 537.8,619.3C538.3,621.6 538.7,623.9 539.2,626.2C539.7,628.6 540.3,630.9 540.8,633.2C541.4,635.5 542,637.8 542.7,640C543.4,642.3 544.1,644.5 544.9,646.8C545.6,649 546.4,651.2 547.2,653.5C548,655.7 548.9,657.9 549.7,660.2C550.4,662.4 551.2,664.7 552,666.9C552.8,669.1 553.6,671.4 554.3,673.6C555.1,675.9 555.9,678.1 556.7,680.4C557.5,682.6 558.3,684.8 559.2,687C560.1,689.3 560.9,691.5 561.8,693.7C562.8,695.8 563.7,698 564.7,700.2C565.6,702.3 566.6,704.5 567.7,706.6C568.7,708.8 569.7,710.9 570.8,713C571.9,715.1 573,717.2 574.1,719.3C575.2,721.4 576.3,723.5 577.5,725.5C578.6,727.6 579.8,729.6 581,731.7C582.2,733.7 583.5,735.8 584.7,737.8C585.9,739.8 587.2,741.8 588.5,743.8C589.7,745.8 591,747.8 592.3,749.8C593.7,751.8 595,753.8 596.3,755.7C597.6,757.7 599,759.7 600.4,761.6C601.7,763.6 603.1,765.5 604.5,767.4C605.9,769.4 607.3,771.3 608.7,773.2C610.1,775.1 611.5,777 612.9,778.9C614.3,780.8 615.8,782.7 617.2,784.6C618.7,786.5 620.1,788.4 621.6,790.2C623,792.1 624.5,794 625.9,795.8C627.4,797.7 629.6,800.5 630.3,801.4Z" fill="url(#gumA)"/>
<g clip-path="url(#cb0)"><rect x="220" y="495" width="380" height="312" fill="#fbf9f3"/><use href="#spots" x="0" fill="#e9e6d1" stroke="#e9e6d1" stroke-width="8.4" stroke-linejoin="round"/><use href="#bn0" fill="none" stroke="#fbf9f3" stroke-width="7"/></g>
<use href="#tooth" x="0" fill="#fff"/>
<use href="#tooth" x="0" fill="none" stroke="#c4c4c5" stroke-width="5.2" stroke-linejoin="round"/>
<path d="M650.9,801.4C651.6,800.3 653.7,797 655.2,794.8C656.6,792.6 658.1,790.4 659.5,788.2C661,786 662.5,783.9 664,781.7C665.5,779.6 667.1,777.4 668.6,775.3C670.1,773.1 671.7,771 673.3,768.9C674.8,766.7 676.4,764.6 678,762.5C679.6,760.3 681.2,758.2 682.7,756.1C684.3,754 685.9,751.9 687.5,749.7C689.1,747.6 690.7,745.5 692.3,743.4C693.9,741.2 695.5,739.1 697.1,737C698.7,734.8 700.2,732.7 701.8,730.6C703.4,728.4 704.9,726.3 706.5,724.1C708,722 709.5,719.8 711.1,717.6C712.6,715.5 714.1,713.3 715.6,711.1C717,708.9 718.5,706.7 719.9,704.5C721.4,702.3 722.8,700.1 724.2,697.8C725.6,695.6 726.9,693.3 728.3,691.1C729.6,688.8 730.9,686.5 732.2,684.2C733.5,681.9 734.7,679.6 735.9,677.3C737.2,675 738.4,672.6 739.6,670.3C740.7,667.9 741.9,665.5 743,663.2C744.2,660.8 745.3,658.4 746.4,656C747.5,653.6 748.5,651.2 749.6,648.8C750.7,646.4 751.7,643.9 752.8,641.5C753.8,639.1 754.8,636.6 755.9,634.2C756.9,631.8 757.9,629.3 758.9,626.9C759.9,624.4 760.9,622 761.9,619.5C762.9,617 763.8,614.6 764.8,612.1C765.8,609.7 766.8,607.2 767.8,604.7C768.8,602.3 769.7,599.8 770.7,597.4C771.7,594.9 772.7,592.4 773.7,590C774.7,587.5 775.7,585.1 776.7,582.6C777.7,580.2 778.8,577.8 779.8,575.3C780.8,572.9 781.9,570.4 782.9,568C783.9,565.6 784.9,563.1 786,560.7C787,558.3 788,555.8 789,553.4C789.9,550.9 790.9,548.5 791.8,546C792.8,543.6 793.7,541.1 794.5,538.6C795.4,536.1 796.2,533.7 797,531.2C797.8,528.7 798.5,526.2 799.1,523.6C799.8,521.1 800.4,518.5 800.7,515.9C801.1,513.3 801.4,510.7 801.5,508C801.7,505.3 801.5,502.6 801.7,499.9C801.8,497.2 801.8,494.4 802.3,491.8C802.8,489.1 803.4,486.3 804.5,484C805.6,481.7 807.1,479.4 809,477.8C810.9,476.1 813.3,474.8 815.7,474C818.1,473.3 820.9,472.9 823.5,473.1C826.1,473.2 828.8,473.9 831.2,475C833.6,476.1 835.9,477.8 837.8,479.6C839.8,481.5 841.4,483.7 842.7,486C843.9,488.3 844.7,490.8 845.4,493.3C846,495.9 846.2,498.6 846.4,501.2C846.6,503.9 846.6,506.6 846.6,509.2C846.6,511.9 846.5,514.6 846.4,517.2C846.3,519.8 846.2,522.4 846.1,525.1C846,527.7 845.9,530.3 845.8,532.9C845.7,535.5 845.6,538.2 845.5,540.8C845.5,543.5 845.5,547.5 845.5,548.8L929.5,535C929.5,533.9 929.3,530.6 929.3,528.5C929.3,526.3 929.2,524.2 929.2,522C929.2,519.9 929.3,517.8 929.3,515.6C929.3,513.5 929.3,511.4 929.4,509.2C929.4,507.1 929.5,505 929.6,502.8C929.6,500.7 929.7,498.5 929.8,496.4C929.9,494.2 929.9,492 930.1,489.9C930.3,487.7 930.5,485.5 931,483.4C931.5,481.3 932.2,479.2 933.1,477.2C934,475.2 935.2,473.2 936.6,471.6C937.9,469.9 939.5,468.3 941.3,467.2C943,466 945.1,465.1 947.1,464.6C949.1,464.1 951.3,464.1 953.3,464.4C955.3,464.7 957.4,465.4 959.2,466.4C961.1,467.4 962.9,468.8 964.4,470.3C965.9,471.8 967.4,473.6 968.5,475.4C969.6,477.3 970.5,479.3 971.2,481.3C971.9,483.3 972.3,485.4 972.6,487.6C972.9,489.7 973,491.9 973.1,494.1C973.2,496.3 973.2,498.5 973.3,500.7C973.4,502.9 973.4,505.1 973.6,507.2C973.8,509.4 974.1,511.5 974.4,513.6C974.8,515.8 975.3,517.8 975.8,519.9C976.3,522 976.9,524 977.5,526.1C978.1,528.1 978.7,530.2 979.3,532.2C980,534.2 980.6,536.3 981.3,538.3C981.9,540.4 982.6,542.4 983.3,544.4C984,546.5 984.7,548.5 985.4,550.6C986.1,552.6 986.8,554.6 987.5,556.7C988.1,558.7 988.8,560.8 989.5,562.8C990.2,564.8 990.9,566.9 991.5,568.9C992.2,571 992.8,573 993.5,575.1C994.1,577.2 994.7,579.2 995.3,581.3C995.9,583.4 996.4,585.4 996.9,587.5C997.5,589.6 997.9,591.7 998.4,593.8C998.9,595.9 999.3,598 999.7,600.1C1000.2,602.2 1000.6,604.3 1001,606.5C1001.4,608.6 1001.7,610.7 1002.1,612.8C1002.5,614.9 1002.9,617 1003.3,619.1C1003.7,621.3 1004.1,623.4 1004.6,625.5C1005,627.6 1005.4,629.7 1005.9,631.8C1006.4,633.9 1006.9,635.9 1007.5,638C1008,640.1 1008.6,642.2 1009.3,644.2C1009.9,646.3 1010.6,648.3 1011.2,650.4C1011.9,652.4 1012.6,654.4 1013.3,656.5C1014.1,658.5 1014.8,660.5 1015.5,662.5C1016.3,664.6 1017,666.6 1017.8,668.6C1018.5,670.6 1019.3,672.6 1020,674.7C1020.8,676.7 1021.6,678.7 1022.4,680.7C1023.2,682.7 1023.9,684.7 1024.8,686.7C1025.6,688.7 1026.4,690.7 1027.2,692.6C1028,694.6 1028.9,696.6 1029.8,698.6C1030.6,700.5 1031.5,702.5 1032.4,704.5C1033.3,706.4 1034.2,708.4 1035.1,710.3C1036,712.2 1036.9,714.2 1037.9,716.1C1038.8,718 1039.8,719.9 1040.8,721.8C1041.8,723.7 1042.8,725.6 1043.8,727.5C1044.9,729.4 1045.9,731.3 1047,733.1C1048.1,735 1049.2,736.8 1050.3,738.7C1051.4,740.5 1052.5,742.3 1053.7,744.1C1054.9,745.9 1056.1,747.7 1057.3,749.5C1058.5,751.3 1059.7,753.1 1060.9,754.9C1062.2,756.6 1063.4,758.4 1064.7,760.1C1065.9,761.9 1067.2,763.6 1068.5,765.4C1069.8,767.1 1071.1,768.8 1072.4,770.6C1073.7,772.3 1075,774 1076.3,775.7C1077.6,777.5 1078.9,779.2 1080.2,780.9C1081.5,782.6 1082.9,784.3 1084.2,786C1085.5,787.7 1086.8,789.4 1088.1,791.1C1089.3,792.8 1090.6,794.6 1091.9,796.3C1093.2,798 1095.1,800.5 1095.7,801.4Z" fill="url(#gumA)"/>
<g clip-path="url(#cg1)"><ellipse cx="823" cy="497" rx="48" ry="66" fill="url(#redA)"/><ellipse cx="953" cy="489" rx="48" ry="68" fill="url(#redA)"/></g>
<g transform="translate(465.4,0)">
<g clip-path="url(#cb0)"><rect x="220" y="495" width="380" height="312" fill="#fbf9f3"/><use href="#spots" x="0" fill="#e9e6d1" stroke="#e9e6d1" stroke-width="8.4" stroke-linejoin="round"/><use href="#bn0" fill="none" stroke="#fbf9f3" stroke-width="7"/></g>
</g>
<g fill="#e9cc6b" stroke="#d0d0cf" stroke-width="1.3"><path d="M834.4,435.8C832.2,436.6 830.8,442.1 830.3,445.7C829.7,449.4 830.4,453.9 831.2,457.7C832,461.4 833.6,464.8 835.1,468.2C836.7,471.5 838.7,474.5 840.5,477.8C842.3,481.1 844.5,484 845.8,487.8C847.1,491.6 847.4,497.6 848.4,500.7C849.3,503.9 850,507.4 851.4,506.8C852.8,506.2 855.9,500.7 856.7,497.2C857.5,493.7 856.9,489.6 856.3,485.7C855.7,481.9 854,478.1 853.2,474.3C852.3,470.6 851.8,466.9 851.1,463.3C850.4,459.6 850.5,456.1 849.2,452.4C847.9,448.7 845.8,444 843.3,441.2C840.8,438.5 836.5,435.1 834.4,435.8Z"/><path d="M933.2,431.9C934.8,432 936.5,436.6 937.2,439.6C937.9,442.6 937.8,446.7 937.6,449.9C937.3,453.1 936.5,455.9 935.7,458.8C935,461.7 933.9,464.3 932.9,467.3C931.9,470.3 930.8,473.4 929.8,476.6C928.9,479.9 928.1,485.3 927,486.9C925.9,488.5 924.3,488.1 923.2,486.2C922.1,484.4 920.8,479.1 920.4,475.8C920.1,472.4 920.7,469.2 921.2,466.1C921.8,463 922.8,460.2 923.5,457.2C924.1,454.2 924.3,451.3 925,448.3C925.7,445.2 926.2,441.6 927.6,438.8C929,436.1 931.6,431.8 933.2,431.9Z"/></g>
<use href="#tooth" x="465.4" fill="#fff"/>
<g transform="translate(465.4,0)" clip-path="url(#ct)"><path d="M370,428C371.5,421.7 375.3,431 378.9,432.3C382.5,433.6 387.7,433.9 391.6,436C395.5,438.1 398.2,442.9 402.4,445C406.6,447.1 412.7,448.3 416.9,448.6C421.1,448.9 423.6,446.5 427.8,446.8C432,447.1 438,450.4 442.2,450.4C446.4,450.4 449.8,448.6 453.1,446.8C456.4,445 459.3,441.4 462.1,439.6C464.9,437.8 468.7,428.3 470,436C471.3,443.7 471.3,477.3 470,486C468.7,494.7 464.9,485.8 462.1,488C459.3,490.2 456.4,497.4 453.1,499C449.8,500.6 445.8,496.8 442.2,497.4C438.6,498 435,502.9 431.4,502.9C427.8,502.9 424.5,497.4 420.6,497.4C416.7,497.4 411.8,502.6 407.9,502.9C404,503.2 400.3,501.1 397,499C393.7,496.9 390.7,493.8 388,490C385.3,486.2 384,479.3 381,476C378,472.7 371.8,478 370,470C368.2,462 368.5,434.3 370,428Z" fill="#ead473" fill-opacity=".88" filter="url(#bl2)"/></g>
<g transform="translate(465.4,0)" clip-path="url(#ct)">
<path d="M389,470.1C390.8,470.3 396.2,471.6 399.8,471.6C403.4,471.6 407.1,470.1 410.7,470.1C414.3,470.1 417.9,471.6 421.5,471.6C425.1,471.6 428.7,470.1 432.3,470.1C435.9,470.1 439.6,471.6 443.2,471.6C446.8,471.6 452.2,470.3 454,470.1" fill="none" stroke="#5f4220" stroke-width="2.7" stroke-linecap="round"/>
<path d="M391.5,470.7C395.2,472.2 396.5,482.6 396.4,493C396.4,496.3 399.4,496.3 399.4,493C400.5,482.6 398.8,472.2 402.5,470.7ZM411.2,470.7C414.4,472.2 413.3,477.6 414.1,483.2C414.1,486.1 416.7,486.1 416.7,483.2C416.7,477.6 417.6,472.2 420.8,470.7ZM421.6,470.7C424.5,472.2 425.4,474.6 425.4,477.3C425.4,480 427.8,480 427.8,477.3C428.6,474.6 427.5,472.2 430.4,470.7ZM431,470.7C433.7,472.2 434.5,473.1 434.5,474.4C434.5,476.8 436.7,476.8 436.7,474.4C437.5,473.1 436.3,472.2 439,470.7ZM440.2,470.7C443.4,472.2 441.8,475.9 442.8,479.7C442.8,482.6 445.4,482.6 445.4,479.7C445.2,475.9 446.6,472.2 449.8,470.7Z" fill="#5f4220"/>
</g>
<use href="#tooth" x="465.4" fill="none" stroke="#c4c4c5" stroke-width="5.2" stroke-linejoin="round"/>
<path d="M967.3,451.2C967.6,450.1 968.6,446.2 968.8,444.3C969,442.3 969,441.3 968.5,439.4C968.1,437.5 967,435 966.1,432.9C965.2,430.7 963.9,428.6 963.2,426.4C962.6,424.2 962.2,422 962.1,419.8C962,417.6 962.1,415.3 962.8,413.3C963.6,411.3 965.1,409.2 966.6,407.9C968,406.7 969.9,406 971.4,405.6C972.9,405.1 974,405.1 975.5,405.3C977,405.5 978.8,405.9 980.3,406.8C981.8,407.7 983.3,409.2 984.4,410.8C985.5,412.4 986.4,414.7 986.8,416.6C987.2,418.5 987.1,420.3 986.8,422.3C986.5,424.3 985.8,426.6 984.9,428.8C984,430.9 982.6,433.1 981.2,435.3C979.7,437.5 977.9,439.9 976.2,441.9C974.6,444 972.9,446.1 971.4,447.6C969.9,449.2 968,450.6 967.3,451.2Z" fill="#ee5452"/>
<path d="M976.5,449.7C977.3,449.9 979.8,450.7 981,451.2C982.1,451.8 982.7,452.1 983.6,453.1C984.5,454 985.5,455.5 986.4,456.7C987.4,458 988.1,459.4 989.1,460.6C990.1,461.7 991.2,462.7 992.4,463.5C993.6,464.3 995,465 996.4,465.3C997.8,465.6 999.5,465.4 1000.7,465.1C1001.9,464.7 1002.9,463.8 1003.7,463.1C1004.4,462.5 1004.8,461.8 1005.2,460.9C1005.6,460 1006.1,458.8 1006.1,457.7C1006.1,456.5 1005.8,455.2 1005.2,454C1004.7,452.8 1003.7,451.5 1002.8,450.7C1001.8,449.8 1000.8,449.2 999.5,448.7C998.3,448.2 996.8,447.7 995.3,447.5C993.7,447.3 992,447.3 990.3,447.3C988.5,447.4 986.6,447.7 984.9,447.9C983.1,448.1 981.4,448.3 980,448.6C978.6,448.9 977.1,449.5 976.5,449.7Z" fill="#ee5452"/>
<path d="M1116.3,801.4C1117,800.3 1119,797.2 1120.4,795.1C1121.7,793 1123.1,790.9 1124.5,788.8C1126,786.7 1127.4,784.6 1128.8,782.6C1130.3,780.5 1131.7,778.5 1133.2,776.4C1134.7,774.4 1136.2,772.3 1137.7,770.3C1139.2,768.3 1140.7,766.2 1142.2,764.2C1143.7,762.2 1145.2,760.2 1146.7,758.1C1148.2,756.1 1149.7,754.1 1151.3,752.1C1152.8,750.1 1154.3,748.1 1155.8,746C1157.3,744 1158.9,742 1160.4,740C1161.9,737.9 1163.4,735.9 1164.9,733.9C1166.4,731.8 1167.9,729.8 1169.4,727.8C1170.8,725.7 1172.3,723.7 1173.8,721.6C1175.2,719.5 1176.6,717.5 1178.1,715.4C1179.5,713.3 1180.9,711.2 1182.3,709.1C1183.7,707 1185,704.9 1186.4,702.8C1187.7,700.7 1189,698.5 1190.3,696.4C1191.6,694.2 1192.9,692.1 1194.1,689.9C1195.4,687.7 1196.6,685.5 1197.8,683.3C1199,681.1 1200.1,678.8 1201.3,676.6C1202.4,674.4 1203.6,672.1 1204.7,669.8C1205.8,667.6 1206.9,665.3 1208,663.1C1209.1,660.8 1210.1,658.5 1211.2,656.2C1212.3,653.9 1213.4,651.7 1214.5,649.4C1215.6,647.1 1216.6,644.8 1217.7,642.5C1218.8,640.3 1219.9,638 1221,635.7C1222.2,633.5 1223.3,631.2 1224.4,629C1225.5,626.7 1226.7,624.5 1227.8,622.2C1229,620 1230.1,617.7 1231.2,615.5C1232.4,613.2 1233.5,611 1234.6,608.7C1235.7,606.4 1236.8,604.2 1237.9,601.9C1238.9,599.6 1240,597.3 1241,595C1242,592.7 1243,590.4 1243.9,588.1C1244.9,585.7 1245.8,583.4 1246.7,581C1247.5,578.7 1248.4,576.3 1249.2,573.9C1250,571.5 1250.8,569.1 1251.6,566.7C1252.3,564.3 1253,561.9 1253.7,559.4C1254.4,557 1255,554.6 1255.6,552.1C1256.2,549.6 1256.7,547.1 1257.2,544.7C1257.6,542.2 1258,539.7 1258.2,537.2C1258.4,534.7 1258.5,532.2 1258.4,529.7C1258.4,527.2 1258,524.7 1257.8,522.2C1257.6,519.6 1257.3,517.1 1257.3,514.6C1257.4,512 1257.6,509.3 1258.2,506.8C1258.8,504.3 1259.6,501.7 1260.9,499.6C1262.1,497.5 1263.7,495.5 1265.6,494.1C1267.5,492.7 1270,491.7 1272.4,491.3C1274.8,491 1277.5,491.2 1280,491.7C1282.4,492.3 1284.9,493.4 1287.1,494.7C1289.3,496 1291.4,497.7 1293.1,499.6C1294.9,501.4 1296.4,503.6 1297.7,505.8C1298.9,508 1299.8,510.3 1300.6,512.7C1301.5,515 1302.1,517.5 1302.9,519.9C1303.7,522.3 1304.3,524.7 1305.3,526.9C1306.2,529.2 1307.2,531.5 1308.7,533.5C1310.1,535.5 1313.1,538.1 1314,539L1393,545C1393.6,544 1395.6,541.2 1396.6,539.3C1397.7,537.3 1398.4,535.2 1399.1,533.2C1399.9,531.1 1400.4,529 1401.1,526.9C1401.7,524.8 1402.3,522.6 1403.1,520.5C1403.8,518.4 1404.6,516.3 1405.6,514.3C1406.5,512.3 1407.6,510.3 1408.9,508.4C1410.2,506.5 1411.7,504.6 1413.3,503C1414.9,501.3 1416.6,499.7 1418.5,498.4C1420.3,497.2 1422.3,496 1424.3,495.2C1426.4,494.5 1428.5,493.9 1430.6,493.8C1432.8,493.7 1435,493.9 1437.2,494.4C1439.3,494.9 1441.5,495.8 1443.4,496.9C1445.3,498 1447.2,499.5 1448.8,501C1450.3,502.6 1451.7,504.5 1452.7,506.4C1453.7,508.4 1454.3,510.5 1454.7,512.7C1455.1,514.9 1455.1,517.2 1455.2,519.4C1455.2,521.7 1454.9,524 1454.8,526.3C1454.6,528.5 1454.3,530.8 1454.1,533C1454,535.3 1453.9,537.5 1454,539.7C1454.1,541.9 1454.4,544.1 1454.8,546.3C1455.1,548.4 1455.5,550.6 1455.9,552.8C1456.3,555 1456.8,557.1 1457.2,559.3C1457.6,561.5 1458,563.7 1458.5,565.9C1458.9,568 1459.3,570.2 1459.8,572.4C1460.2,574.6 1460.6,576.8 1461.1,579C1461.5,581.2 1461.9,583.4 1462.4,585.5C1462.8,587.7 1463.2,589.9 1463.7,592.1C1464.1,594.3 1464.6,596.5 1465,598.7C1465.4,600.9 1465.9,603.1 1466.3,605.3C1466.7,607.5 1467.2,609.6 1467.6,611.8C1468,614 1468.4,616.2 1468.9,618.4C1469.3,620.6 1469.7,622.8 1470.1,624.9C1470.6,627.1 1471,629.3 1471.5,631.5C1472,633.6 1472.5,635.8 1473,637.9C1473.5,640.1 1474.1,642.2 1474.8,644.4C1475.4,646.5 1476.1,648.6 1476.8,650.7C1477.5,652.8 1478.2,655 1479,657.1C1479.7,659.2 1480.4,661.3 1481.2,663.4C1482,665.5 1482.7,667.6 1483.5,669.7C1484.3,671.8 1485.1,673.8 1485.9,675.9C1486.7,678 1487.5,680.1 1488.3,682.2C1489.1,684.2 1490,686.3 1490.8,688.4C1491.6,690.4 1492.5,692.5 1493.4,694.5C1494.2,696.6 1495.1,698.6 1496,700.7C1496.9,702.7 1497.9,704.7 1498.8,706.7C1499.7,708.8 1500.7,710.8 1501.7,712.8C1502.6,714.8 1503.6,716.8 1504.6,718.7C1505.6,720.7 1506.7,722.7 1507.7,724.6C1508.8,726.6 1509.8,728.6 1510.9,730.5C1512,732.4 1513.1,734.3 1514.3,736.3C1515.4,738.2 1516.6,740.1 1517.8,742C1518.9,743.8 1520.2,745.7 1521.4,747.6C1522.6,749.4 1523.9,751.3 1525.1,753.1C1526.4,755 1527.7,756.8 1529,758.6C1530.3,760.4 1531.6,762.3 1532.9,764.1C1534.3,765.9 1535.6,767.7 1536.9,769.5C1538.3,771.2 1539.6,773 1541,774.8C1542.3,776.6 1543.7,778.4 1545,780.1C1546.4,781.9 1547.8,783.7 1549.1,785.5C1550.5,787.2 1551.8,789 1553.1,790.8C1554.5,792.5 1555.8,794.3 1557.2,796.1C1558.5,797.9 1560.4,800.5 1561.1,801.4Z" fill="#cd7c86"/>
<g clip-path="url(#cg2)"><ellipse cx="1277" cy="517" rx="42" ry="52" fill="url(#redB)"/><ellipse cx="1433" cy="519" rx="42" ry="52" fill="url(#redB)"/></g>
<g clip-path="url(#cb2)"><rect x="1150.8" y="495" width="380" height="312" fill="#fbf9f3"/><use href="#spots" x="930.8" fill="#e9e6d1" stroke="#e9e6d1" stroke-width="8.4" stroke-linejoin="round"/><use href="#bn2" fill="none" stroke="#fbf9f3" stroke-width="7"/></g>
<g fill="#e9cc6b" stroke="#d0d0cf" stroke-width="1.3"><path d="M1300,436.5C1298.1,436.7 1296.1,444.7 1295.9,448.9C1295.6,453.1 1297.4,457.4 1298.7,461.6C1299.9,465.9 1302.1,470.1 1303.3,474.4C1304.5,478.7 1305.3,483 1305.7,487.3C1306.1,491.6 1306,495.9 1305.9,500.2C1305.9,504.6 1305.5,509 1305.6,513.5C1305.6,518.1 1305.5,523.5 1306.1,527.5C1306.8,531.6 1307.9,538.2 1309.5,537.9C1311,537.7 1314,530.4 1315.3,526.2C1316.5,522 1316.9,517.1 1317,512.7C1317.1,508.3 1316.4,504 1316,499.6C1315.5,495.2 1314.8,490.7 1314.2,486.3C1313.6,481.9 1313,477.5 1312.4,473.3C1311.8,469.1 1311.6,465.2 1310.7,461C1309.8,456.7 1309,451.9 1307.2,447.8C1305.4,443.7 1301.9,436.3 1300,436.5Z"/><path d="M1396.8,433.2C1398,433.6 1399.5,441.2 1399.9,445.4C1400.3,449.6 1399.7,454.2 1399.2,458.4C1398.8,462.6 1397.7,466.5 1397.4,470.7C1397,474.9 1397,479.4 1397.4,483.5C1397.8,487.6 1399,491.3 1399.9,495.4C1400.7,499.5 1402,503.9 1402.3,508.3C1402.5,512.6 1403,519.6 1401.4,521.7C1399.8,523.8 1395.1,522.9 1392.7,520.9C1390.2,518.9 1387.8,513.8 1386.7,509.7C1385.6,505.6 1385.9,500.7 1386,496.2C1386.2,491.7 1387.2,486.9 1387.6,482.7C1388.1,478.5 1388.4,475 1388.7,471C1389.1,467 1389.1,463.6 1389.7,458.9C1390.3,454.2 1391.2,447.2 1392.4,443C1393.6,438.7 1395.5,432.7 1396.8,433.2Z"/></g>
<use href="#tooth" x="930.8" fill="#fff"/>
<g transform="translate(930.8,0)" clip-path="url(#ct)"><path d="M370,428C371.5,421.7 375.3,431 378.9,432.3C382.5,433.6 387.7,433.9 391.6,436C395.5,438.1 398.2,442.9 402.4,445C406.6,447.1 412.7,448.3 416.9,448.6C421.1,448.9 423.6,446.5 427.8,446.8C432,447.1 438,450.4 442.2,450.4C446.4,450.4 449.8,448.6 453.1,446.8C456.4,445 459.3,441.4 462.1,439.6C464.9,437.8 468.7,428.3 470,436C471.3,443.7 471.3,477.3 470,486C468.7,494.7 464.9,485.8 462.1,488C459.3,490.2 456.4,497.4 453.1,499C449.8,500.6 445.8,496.8 442.2,497.4C438.6,498 435,502.9 431.4,502.9C427.8,502.9 424.5,497.4 420.6,497.4C416.7,497.4 411.8,502.6 407.9,502.9C404,503.2 400.3,501.1 397,499C393.7,496.9 390.7,493.8 388,490C385.3,486.2 384,479.3 381,476C378,472.7 371.8,478 370,470C368.2,462 368.5,434.3 370,428Z" fill="#e3cb5e" filter="url(#bl2)"/><ellipse cx="420" cy="469.5" rx="33" ry="8.5" fill="#6a4d1a" opacity=".85" filter="url(#bl4)"/></g>
<g transform="translate(930.8,0)" clip-path="url(#ct)">
<path d="M389,470.1C390.8,470.3 396.2,471.6 399.8,471.6C403.4,471.6 407.1,470.1 410.7,470.1C414.3,470.1 417.9,471.6 421.5,471.6C425.1,471.6 428.7,470.1 432.3,470.1C435.9,470.1 439.6,471.6 443.2,471.6C446.8,471.6 452.2,470.3 454,470.1" fill="none" stroke="#5a3d1c" stroke-width="2.7" stroke-linecap="round"/>
<path d="M391.5,470.7C395.2,472.2 396.5,482.6 396.4,493C396.4,496.3 399.4,496.3 399.4,493C400.5,482.6 398.8,472.2 402.5,470.7ZM411.2,470.7C414.4,472.2 413.3,477.6 414.1,483.2C414.1,486.1 416.7,486.1 416.7,483.2C416.7,477.6 417.6,472.2 420.8,470.7ZM421.6,470.7C424.5,472.2 425.4,474.6 425.4,477.3C425.4,480 427.8,480 427.8,477.3C428.6,474.6 427.5,472.2 430.4,470.7ZM431,470.7C433.7,472.2 434.5,473.1 434.5,474.4C434.5,476.8 436.7,476.8 436.7,474.4C437.5,473.1 436.3,472.2 439,470.7ZM440.2,470.7C443.4,472.2 441.8,475.9 442.8,479.7C442.8,482.6 445.4,482.6 445.4,479.7C445.2,475.9 446.6,472.2 449.8,470.7Z" fill="#5a3d1c"/>
</g>
<use href="#tooth" x="930.8" fill="none" stroke="#c4c4c5" stroke-width="5.2" stroke-linejoin="round"/>
<path d="M1434,481.1C1434.3,480 1435.3,476.1 1435.5,474.2C1435.7,472.2 1435.7,471.2 1435.2,469.3C1434.8,467.4 1433.7,464.9 1432.8,462.8C1431.9,460.6 1430.6,458.5 1429.9,456.3C1429.3,454.1 1428.9,451.9 1428.8,449.7C1428.7,447.5 1428.8,445.2 1429.5,443.2C1430.3,441.2 1431.8,439.1 1433.3,437.8C1434.7,436.6 1436.6,435.9 1438.1,435.5C1439.6,435 1440.7,435 1442.2,435.2C1443.7,435.4 1445.5,435.8 1447,436.7C1448.5,437.6 1450,439.1 1451.1,440.7C1452.2,442.3 1453.1,444.6 1453.5,446.5C1453.9,448.4 1453.8,450.2 1453.5,452.2C1453.2,454.2 1452.5,456.5 1451.6,458.7C1450.7,460.8 1449.3,463 1447.9,465.2C1446.4,467.4 1444.6,469.8 1442.9,471.8C1441.3,473.9 1439.6,476 1438.1,477.5C1436.6,479.1 1434.7,480.5 1434,481.1Z" fill="#ee5452"/>
<path d="M1443.2,479.6C1444,479.8 1446.5,480.6 1447.7,481.1C1448.8,481.7 1449.4,482 1450.3,483C1451.2,483.9 1452.2,485.4 1453.1,486.6C1454.1,487.9 1454.8,489.3 1455.8,490.5C1456.8,491.6 1457.9,492.6 1459.1,493.4C1460.3,494.2 1461.7,494.9 1463.1,495.2C1464.5,495.5 1466.2,495.3 1467.4,495C1468.6,494.6 1469.6,493.7 1470.4,493C1471.1,492.4 1471.5,491.7 1471.9,490.8C1472.3,489.9 1472.8,488.7 1472.8,487.6C1472.8,486.4 1472.5,485.1 1471.9,483.9C1471.4,482.7 1470.4,481.4 1469.5,480.6C1468.5,479.7 1467.5,479.1 1466.2,478.6C1465,478.1 1463.5,477.6 1462,477.4C1460.4,477.2 1458.7,477.2 1457,477.2C1455.2,477.3 1453.3,477.6 1451.6,477.8C1449.8,478 1448.1,478.2 1446.7,478.5C1445.3,478.8 1443.8,479.4 1443.2,479.6Z" fill="#ee5452"/>
<path d="M1583.3,801.4C1584.3,800.8 1587.4,799.1 1589.3,797.8C1591.2,796.5 1592.9,795 1594.6,793.5C1596.3,792 1597.9,790.4 1599.4,788.8C1601,787.1 1602.4,785.4 1603.8,783.6C1605.2,781.8 1606.6,779.9 1607.9,778.1C1609.2,776.2 1610.4,774.3 1611.7,772.3C1612.9,770.4 1614.1,768.4 1615.4,766.5C1616.6,764.6 1617.8,762.6 1619,760.7C1620.2,758.7 1621.5,756.8 1622.7,754.8C1623.9,752.9 1625.1,751 1626.4,749.1C1627.6,747.1 1628.8,745.2 1630,743.3C1631.2,741.3 1632.4,739.4 1633.6,737.5C1634.8,735.5 1636,733.6 1637.2,731.6C1638.3,729.7 1639.5,727.7 1640.6,725.7C1641.7,723.8 1642.9,721.8 1644,719.8C1645.1,717.8 1646.2,715.8 1647.3,713.8C1648.4,711.8 1649.5,709.8 1650.6,707.8C1651.6,705.8 1652.7,703.8 1653.8,701.8C1654.8,699.7 1655.9,697.7 1657,695.7C1658,693.7 1659.1,691.7 1660.1,689.6C1661.2,687.6 1662.3,685.6 1663.3,683.6C1664.4,681.5 1665.4,679.5 1666.5,677.5C1667.6,675.5 1668.6,673.4 1669.7,671.4C1670.8,669.4 1671.9,667.4 1672.9,665.4C1674,663.4 1675.1,661.4 1676.2,659.4C1677.3,657.3 1678.4,655.3 1679.5,653.3C1680.6,651.3 1681.6,649.3 1682.7,647.3C1683.7,645.2 1684.7,643.2 1685.7,641.1C1686.7,639.1 1687.6,637 1688.4,634.9C1689.3,632.8 1690.1,630.7 1690.9,628.5C1691.6,626.4 1692.3,624.2 1693,622C1693.6,619.8 1694.3,617.6 1694.9,615.4C1695.6,613.2 1696.2,611 1696.8,608.8C1697.5,606.6 1698.2,604.5 1698.8,602.3C1699.5,600.1 1700.2,598 1700.8,595.8C1701.4,593.6 1702,591.4 1702.4,589.2C1702.9,586.9 1703.3,584.7 1703.6,582.4C1703.9,580.1 1704.1,577.8 1704.4,575.5C1704.6,573.2 1704.8,570.9 1705.1,568.6C1705.4,566.3 1705.7,564.1 1706.1,561.8C1706.6,559.6 1707.1,557.4 1707.8,555.3C1708.6,553.1 1709.4,551 1710.5,549C1711.6,547.1 1712.9,545.1 1714.4,543.3C1715.9,541.6 1717.5,539.9 1719.3,538.5C1721.1,537 1723.1,535.7 1725.1,534.7C1727.2,533.7 1729.4,532.9 1731.6,532.4C1733.9,531.9 1736.3,531.7 1738.7,531.8C1741,531.9 1743.5,532.3 1745.6,533C1747.8,533.7 1750,534.8 1751.8,536.1C1753.6,537.3 1755.3,539 1756.5,540.7C1757.8,542.5 1758.8,544.5 1759.5,546.6C1760.3,548.6 1760.7,550.9 1761.1,553.2C1761.5,555.4 1761.7,557.8 1761.9,560.1C1762.1,562.4 1762.3,564.7 1762.4,567C1762.6,569.3 1762.7,571.6 1762.8,573.9C1763,576.2 1763.2,578.5 1763.4,580.7C1763.7,583 1763.9,585.2 1764.3,587.5C1764.7,589.7 1765.2,591.9 1765.8,594C1766.5,596.2 1767.2,598.3 1768.1,600.3C1769.1,602.4 1770.2,604.4 1771.4,606.4C1772.6,608.4 1774.1,610.3 1775.4,612.2C1776.6,614.2 1778.4,617 1779,618L1841,619C1842,618.4 1845.4,616.9 1847.2,615.5C1849.1,614.1 1850.5,612.3 1851.9,610.5C1853.2,608.7 1854.3,606.6 1855.3,604.5C1856.4,602.4 1857.2,600.1 1858.1,597.9C1859,595.8 1859.8,593.5 1860.6,591.4C1861.5,589.2 1862.3,587.1 1863.2,584.9C1864.1,582.8 1864.9,580.7 1865.9,578.6C1866.8,576.4 1867.8,574.3 1868.9,572.1C1869.9,570 1871,567.8 1872.2,565.7C1873.5,563.6 1874.7,561.6 1876.2,559.7C1877.6,557.8 1879.1,555.9 1880.7,554.3C1882.4,552.7 1884.1,551.1 1886,549.9C1887.9,548.6 1890,547.5 1892.2,546.8C1894.4,546 1896.7,545.5 1899,545.4C1901.3,545.2 1903.8,545.5 1906,546C1908.3,546.6 1910.5,547.5 1912.5,548.6C1914.5,549.7 1916.3,551.2 1918,552.8C1919.6,554.4 1921,556.3 1922.3,558.3C1923.6,560.2 1924.7,562.4 1925.6,564.6C1926.6,566.7 1927.4,569 1928.1,571.3C1928.8,573.6 1929.3,575.9 1929.8,578.2C1930.3,580.5 1930.6,582.8 1930.9,585.1C1931.3,587.4 1931.5,589.7 1931.8,592C1932.1,594.3 1932.3,596.6 1932.6,598.9C1932.8,601.2 1933.1,603.5 1933.5,605.8C1933.9,608.1 1934.3,610.4 1934.8,612.6C1935.3,614.9 1935.9,617.2 1936.5,619.4C1937.1,621.7 1937.7,623.9 1938.4,626.2C1939.1,628.4 1939.8,630.7 1940.5,632.9C1941.3,635.1 1942,637.4 1942.7,639.6C1943.5,641.8 1944.2,644 1945,646.2C1945.7,648.5 1946.5,650.7 1947.3,652.9C1948,655.1 1948.8,657.3 1949.6,659.5C1950.4,661.7 1951.2,663.9 1952.1,666C1952.9,668.2 1953.7,670.4 1954.6,672.6C1955.4,674.7 1956.3,676.9 1957.2,679.1C1958.1,681.2 1959,683.4 1959.9,685.5C1960.8,687.6 1961.8,689.8 1962.7,691.9C1963.7,694 1964.6,696.1 1965.6,698.2C1966.6,700.3 1967.6,702.4 1968.7,704.5C1969.7,706.6 1970.7,708.7 1971.8,710.8C1972.9,712.8 1973.9,714.9 1975,717C1976.1,719 1977.2,721.1 1978.3,723.1C1979.4,725.2 1980.6,727.2 1981.7,729.3C1982.8,731.3 1984,733.4 1985.1,735.4C1986.3,737.4 1987.4,739.4 1988.6,741.5C1989.8,743.5 1991,745.5 1992.1,747.5C1993.3,749.5 1994.5,751.5 1995.7,753.6C1996.9,755.6 1998.1,757.6 1999.3,759.6C2000.5,761.6 2001.7,763.6 2003,765.6C2004.2,767.6 2005.4,769.6 2006.6,771.6C2007.8,773.5 2009,775.5 2010.2,777.5C2011.5,779.5 2012.7,781.5 2013.9,783.5C2015.1,785.5 2016.3,787.5 2017.5,789.5C2018.7,791.5 2019.9,793.5 2021.1,795.5C2022.4,797.4 2024.2,800.4 2024.8,801.4Z" fill="#cd7c86"/>
<g clip-path="url(#cg3)"><ellipse cx="1740" cy="566" rx="52" ry="56" fill="url(#redB)"/><ellipse cx="1895" cy="578" rx="54" ry="56" fill="url(#redB)"/></g>
<g clip-path="url(#cb3)"><rect x="1616.2" y="495" width="380" height="312" fill="#fbf9f3"/><use href="#spots" x="1396.2" fill="#e9e6d1" stroke="#e9e6d1" stroke-width="8.4" stroke-linejoin="round"/><use href="#bn3" fill="none" stroke="#fbf9f3" stroke-width="7"/></g>
<g fill="#e9cc6b" stroke="#d0d0cf" stroke-width="1.3"><path d="M1769.7,430.1C1767.1,429.8 1763.7,438.6 1762.8,443.7C1762,448.8 1764.1,455.2 1764.8,460.9C1765.5,466.7 1766.4,472.3 1767,478C1767.6,483.7 1768.3,489.4 1768.5,495.2C1768.7,500.9 1768.7,506.7 1768.4,512.4C1768.1,518.2 1767.3,524 1766.7,529.8C1766,535.6 1765.1,541.5 1764.6,547.3C1764.1,553.1 1763.5,558.8 1763.4,564.6C1763.4,570.3 1763.5,576 1764.4,581.6C1765.3,587.2 1766.7,592.9 1768.8,598.2C1771,603.6 1774.9,613.5 1777.2,613.9C1779.6,614.3 1781.8,606.4 1783,600.8C1784.2,595.2 1784.1,586.5 1784.3,580.2C1784.5,574 1784.3,568.7 1784.2,563.3C1784.1,557.9 1783.9,553.1 1783.9,547.8C1783.9,542.5 1784.1,537.1 1784.4,531.4C1784.7,525.8 1785.3,519.7 1785.7,513.8C1786.1,507.9 1786.6,501.7 1786.6,495.9C1786.6,490.2 1786.5,484.6 1785.9,479.2C1785.3,473.8 1784.1,469.3 1782.8,463.7C1781.6,458 1780.4,451 1778.2,445.4C1776,439.8 1772.2,430.4 1769.7,430.1Z"/><path d="M1860.7,429.4C1863.2,429.2 1865.8,439.8 1867.5,445.7C1869.1,451.7 1869.5,458.8 1870.4,465.2C1871.2,471.7 1872.1,478.1 1872.7,484.5C1873.2,490.9 1873.7,497.2 1873.9,503.7C1874.1,510.1 1874.1,516.5 1873.8,522.9C1873.5,529.4 1873,535.8 1872.2,542.2C1871.4,548.6 1870.4,555 1869.1,561.4C1867.8,567.7 1866.2,573.9 1864.3,580.1C1862.5,586.4 1860.3,592.6 1857.9,598.6C1855.5,604.6 1852.5,615.7 1849.9,616.2C1847.3,616.7 1843.7,607.9 1842.3,601.7C1840.8,595.4 1840.7,585.5 1841.2,578.6C1841.6,571.7 1843.6,566.2 1845,560.2C1846.4,554.3 1848.5,549.1 1849.5,543.2C1850.4,537.2 1850.8,530.9 1850.8,524.4C1850.9,518 1850.1,511.1 1849.6,504.5C1849.2,497.9 1848.3,491.2 1848.2,485C1848,478.9 1847.9,473.6 1848.6,467.3C1849.3,461.1 1850.3,453.6 1852.3,447.3C1854.3,441 1858.1,429.7 1860.7,429.4Z"/></g>
<use href="#tooth" x="1396.2" fill="#fff"/>
<g transform="translate(1396.2,0)" clip-path="url(#ct)"><path d="M370,428C371.5,415.9 375.3,431 378.9,432.3C382.5,433.6 387.7,433.9 391.6,436C395.5,438.1 398.2,442.9 402.4,445C406.6,447.1 412.7,448.3 416.9,448.6C421.1,448.9 423.6,446.5 427.8,446.8C432,447.1 438,450.4 442.2,450.4C446.4,450.4 449.8,448.6 453.1,446.8C456.4,445 459.3,441.4 462.1,439.6C464.9,437.8 468.4,423.4 470,436C471.6,448.6 473.3,500.7 472,515C470.7,529.3 464.4,519.2 462,522C459.6,524.8 458.5,529 457.4,532C456.3,535 456.7,536.5 455.3,540C453.9,543.5 451.3,551.3 448.8,553C446.3,554.7 442.6,548.6 440.1,550C437.6,551.4 435.6,560.5 433.6,561.5C431.6,562.5 429.8,556.2 428,556C426.2,555.8 425,559.3 422.7,560C420.4,560.7 415.9,562.7 414,560C412.1,557.3 413.3,547.5 411.5,544C409.7,540.5 405.7,539 403.2,539C400.7,539 398.9,543.9 396.7,544C394.5,544.1 392,541.8 390.2,539.5C388.4,537.2 387.5,534.1 385.8,530C384.1,525.9 382.6,519.2 380,515C377.4,510.8 371.7,519.5 370,505C368.3,490.5 368.5,440.1 370,428Z" fill="#ddc455" filter="url(#bl2)"/><ellipse cx="421" cy="469" rx="34" ry="9" fill="#6a4e1b" opacity=".75" filter="url(#bl4)"/><ellipse cx="424" cy="506" rx="24" ry="30" fill="#6a4c1c" opacity=".85" filter="url(#bl7)"/></g>
<g transform="translate(1396.2,0)" clip-path="url(#ct)">
<path d="M388,472C389.8,472.2 395.3,473.5 399,473.5C402.7,473.5 406.3,472 410,472C413.7,472 417.3,473.5 421,473.5C424.7,473.5 428.3,472 432,472C435.7,472 439.3,473.5 443,473.5C446.7,473.5 452.2,472.2 454,472" fill="none" stroke="#4a2f17" stroke-width="2.7" stroke-linecap="round"/>
<path d="M391.2,472.6C394.9,474.1 395.7,482.8 395.8,491.5C395.8,494.8 398.8,494.8 398.8,491.5C399.7,482.8 398.5,474.1 402.2,472.6ZM412.5,472.6C415.7,474.1 414.6,495.3 415.4,516.7C415.4,519.6 418,519.6 418,516.7C418,495.3 418.9,474.1 422.1,472.6ZM423.3,472.6C426.5,474.1 427.4,501.8 427.4,529.7C427.4,532.6 430,532.6 430,529.7C430.8,501.8 429.7,474.1 432.9,472.6ZM433.5,472.6C436.4,474.1 437.3,486.1 437.3,498.5C437.3,501.2 439.7,501.2 439.7,498.5C440.5,486.1 439.4,474.1 442.3,472.6ZM441.8,472.6C445,474.1 443.9,476.8 444.7,479.7C444.7,482.6 447.3,482.6 447.3,479.7C447.3,476.8 448.2,474.1 451.4,472.6Z" fill="#4a2f17"/>
</g>
<use href="#tooth" x="1396.2" fill="none" stroke="#c4c4c5" stroke-width="5.2" stroke-linejoin="round"/>
<path d="M1904.4,533.9C1904.7,532.8 1905.7,528.9 1905.9,527C1906.1,525 1906.1,524 1905.6,522.1C1905.2,520.2 1904.1,517.7 1903.2,515.6C1902.3,513.4 1901,511.3 1900.3,509.1C1899.7,506.9 1899.3,504.7 1899.2,502.5C1899.1,500.3 1899.2,498 1899.9,496C1900.7,494 1902.2,491.9 1903.7,490.6C1905.1,489.4 1907,488.7 1908.5,488.3C1910,487.8 1911.1,487.8 1912.6,488C1914.1,488.2 1915.9,488.6 1917.4,489.5C1918.9,490.4 1920.4,491.9 1921.5,493.5C1922.6,495.1 1923.5,497.4 1923.9,499.3C1924.3,501.2 1924.2,503 1923.9,505C1923.6,507 1922.9,509.3 1922,511.5C1921.1,513.6 1919.7,515.8 1918.3,518C1916.8,520.2 1915,522.6 1913.3,524.6C1911.7,526.7 1910,528.8 1908.5,530.3C1907,531.9 1905.1,533.3 1904.4,533.9Z" fill="#e2a62e"/>
<path d="M1913.6,532.4C1914.4,532.6 1916.9,533.4 1918.1,533.9C1919.2,534.5 1919.8,534.8 1920.7,535.8C1921.6,536.7 1922.6,538.2 1923.5,539.4C1924.5,540.7 1925.2,542.1 1926.2,543.3C1927.2,544.4 1928.3,545.4 1929.5,546.2C1930.7,547 1932.1,547.7 1933.5,548C1934.9,548.3 1936.6,548.1 1937.8,547.8C1939,547.4 1940,546.5 1940.8,545.8C1941.5,545.2 1941.9,544.5 1942.3,543.6C1942.7,542.7 1943.2,541.5 1943.2,540.4C1943.2,539.2 1942.9,537.9 1942.3,536.7C1941.8,535.5 1940.8,534.2 1939.9,533.4C1938.9,532.5 1937.9,531.9 1936.6,531.4C1935.4,530.9 1933.9,530.4 1932.4,530.2C1930.8,530 1929.1,530 1927.4,530C1925.6,530.1 1923.7,530.4 1922,530.6C1920.2,530.8 1918.5,531 1917.1,531.3C1915.7,531.6 1914.2,532.2 1913.6,532.4Z" fill="#ee5452"/>
<use href="#tooth" x="1861.6" fill="#fff" stroke="#ececec" stroke-width="4.5" transform="rotate(-7.9 2289.9 736.5)"/>
<use href="#tooth" x="1861.6" fill="#fff" stroke="#ececec" stroke-width="4.5" transform="rotate(7.8 2289.9 736.5)"/>
<path d="M2049.2,801.4C2050.2,800.8 2053.3,799 2055.1,797.6C2057,796.2 2058.7,794.7 2060.3,793.1C2062,791.6 2063.5,789.9 2064.9,788.1C2066.4,786.4 2067.7,784.5 2069,782.7C2070.3,780.8 2071.6,778.8 2072.8,776.9C2074,775 2075.2,773 2076.3,771C2077.5,769 2078.7,767 2079.8,765C2081,763 2082.2,761 2083.3,759C2084.5,757 2085.6,755 2086.8,753C2087.9,751 2089.1,749.1 2090.2,747.1C2091.4,745.1 2092.5,743.1 2093.6,741.1C2094.7,739.1 2095.8,737.1 2096.9,735C2098,733 2099,731 2100.1,729C2101.2,727 2102.2,724.9 2103.3,722.9C2104.3,720.9 2105.3,718.8 2106.4,716.8C2107.4,714.8 2108.4,712.7 2109.5,710.7C2110.5,708.6 2111.5,706.6 2112.5,704.5C2113.6,702.5 2114.6,700.4 2115.6,698.4C2116.6,696.4 2117.7,694.3 2118.7,692.3C2119.8,690.2 2120.8,688.2 2121.9,686.1C2122.9,684.1 2124,682 2125.1,680C2126.2,678 2127.3,675.9 2128.3,673.9C2129.4,671.8 2130.5,669.8 2131.6,667.8C2132.6,665.7 2133.7,663.6 2134.7,661.6C2135.7,659.5 2136.7,657.4 2137.6,655.3C2138.5,653.3 2139.4,651.1 2140.2,649C2141.1,646.9 2141.9,644.8 2142.6,642.6C2143.3,640.4 2143.9,638.2 2144.4,636C2145,633.8 2145.5,631.6 2145.8,629.3C2146.2,627.1 2146.5,624.8 2146.7,622.5C2146.8,620.2 2146.9,617.9 2146.9,615.6C2146.9,613.3 2146.8,611 2146.7,608.7C2146.7,606.4 2146.6,604.1 2146.7,601.8C2146.7,599.5 2146.8,597.1 2147.2,594.9C2147.5,592.6 2147.9,590.4 2148.6,588.2C2149.3,586 2150.2,583.9 2151.3,581.9C2152.4,580 2153.8,578 2155.4,576.3C2156.9,574.6 2158.7,573 2160.6,571.7C2162.6,570.3 2164.7,569.1 2166.9,568.2C2169.1,567.3 2171.5,566.6 2173.8,566.1C2176.1,565.7 2178.5,565.5 2180.7,565.7C2182.9,565.8 2185.1,566.2 2187.3,566.8C2189.4,567.5 2191.4,568.4 2193.4,569.4C2195.3,570.5 2197.2,571.8 2199,573.2C2200.9,574.5 2202.6,576.1 2204.3,577.8C2205.9,579.4 2207.5,581.2 2209.1,582.9C2210.6,584.7 2212,586.6 2213.4,588.5C2214.8,590.3 2216.1,592.2 2217.3,594.1C2218.6,596.1 2219.8,598 2221,600C2222.2,601.9 2223.3,603.9 2224.5,605.9C2225.6,607.9 2226.7,609.9 2227.8,611.9C2228.9,613.8 2230,615.8 2231.2,617.8C2232.3,619.8 2233.4,621.8 2234.6,623.8C2235.8,625.7 2236.9,627.7 2238.2,629.6C2239.4,631.5 2240.7,633.4 2242,635.3C2243.3,637.2 2245.3,640.1 2246,641L2309,646C2309.6,645 2311.3,641.9 2312.4,639.7C2313.4,637.6 2314.4,635.5 2315.3,633.4C2316.2,631.2 2317.1,629.1 2317.9,627C2318.8,624.8 2319.6,622.7 2320.4,620.5C2321.2,618.3 2322,616.2 2322.9,614C2323.7,611.9 2324.5,609.7 2325.4,607.5C2326.3,605.3 2327.1,603.2 2328.1,601C2329.1,598.8 2330.1,596.6 2331.2,594.5C2332.3,592.3 2333.5,590.2 2334.7,588.2C2336,586.1 2337.4,584.2 2338.8,582.4C2340.3,580.6 2341.9,578.8 2343.6,577.3C2345.3,575.9 2347.2,574.5 2349.2,573.4C2351.2,572.4 2353.4,571.5 2355.6,570.9C2357.9,570.3 2360.3,570 2362.7,569.9C2365.1,569.8 2367.6,570 2369.9,570.4C2372.3,570.8 2374.7,571.5 2376.9,572.4C2379,573.3 2381.2,574.5 2383,575.9C2384.9,577.2 2386.6,578.9 2388,580.7C2389.5,582.5 2390.7,584.5 2391.6,586.5C2392.6,588.6 2393.2,590.9 2393.9,593.1C2394.5,595.4 2394.9,597.7 2395.4,600C2395.9,602.3 2396.3,604.6 2396.8,607C2397.3,609.3 2397.7,611.6 2398.2,613.9C2398.6,616.2 2399.1,618.5 2399.6,620.7C2400.1,623 2400.6,625.3 2401.1,627.6C2401.7,629.8 2402.2,632.1 2402.8,634.4C2403.4,636.6 2404,638.8 2404.7,641.1C2405.4,643.3 2406.1,645.5 2406.9,647.7C2407.6,649.9 2408.4,652.1 2409.3,654.3C2410.1,656.4 2411,658.6 2411.9,660.8C2412.8,662.9 2413.7,665.1 2414.7,667.2C2415.6,669.3 2416.6,671.5 2417.6,673.6C2418.6,675.7 2419.6,677.8 2420.6,680C2421.6,682.1 2422.7,684.2 2423.7,686.3C2424.7,688.4 2425.8,690.5 2426.8,692.6C2427.8,694.7 2428.9,696.8 2429.9,698.9C2430.9,701 2432,703.1 2433,705.2C2434.1,707.3 2435.1,709.4 2436.2,711.5C2437.2,713.6 2438.3,715.7 2439.3,717.8C2440.4,719.8 2441.5,721.9 2442.5,724C2443.6,726.1 2444.7,728.1 2445.8,730.2C2446.9,732.3 2448,734.3 2449.1,736.4C2450.2,738.5 2451.3,740.5 2452.4,742.5C2453.5,744.6 2454.7,746.6 2455.8,748.7C2457,750.7 2458.1,752.7 2459.3,754.7C2460.5,756.7 2461.6,758.8 2462.8,760.8C2464,762.8 2465.2,764.8 2466.5,766.7C2467.7,768.7 2468.9,770.7 2470.2,772.7C2471.5,774.6 2472.7,776.6 2474,778.5C2475.3,780.5 2476.6,782.4 2477.9,784.4C2479.3,786.3 2480.6,788.2 2482,790.1C2483.3,792 2484.7,793.9 2486.1,795.8C2487.5,797.7 2489.7,800.5 2490.4,801.4Z" fill="#cd7c86"/>
<g clip-path="url(#cg4)"><ellipse cx="2194" cy="612" rx="60" ry="60" fill="url(#redB)"/><ellipse cx="2350" cy="608" rx="60" ry="60" fill="url(#redB)"/></g>
<g clip-path="url(#cb4)"><rect x="2081.6" y="495" width="380" height="312" fill="#fbf9f3"/><use href="#spots" x="1861.6" fill="#e9e6d1" stroke="#e9e6d1" stroke-width="8.4" stroke-linejoin="round"/><use href="#bn4" fill="none" stroke="#fbf9f3" stroke-width="7"/></g>
<g fill="#e9cc6b" stroke="#d0d0cf" stroke-width="1.3"><path d="M2234.6,430.1C2231.8,429.9 2228.8,439.8 2228.2,445.6C2227.5,451.4 2229.9,458.4 2230.8,464.7C2231.8,471.1 2233.2,477.4 2233.9,483.8C2234.7,490.2 2235.4,496.5 2235.4,502.9C2235.5,509.3 2234.9,515.7 2234.3,522.1C2233.6,528.5 2232.5,534.9 2231.6,541.3C2230.8,547.7 2229.6,554.1 2228.9,560.5C2228.3,566.9 2227.6,573.3 2227.6,579.6C2227.6,586 2227.8,592.4 2228.9,598.7C2230.1,605.1 2231.8,611.7 2234.4,617.7C2236.9,623.6 2241.7,633.4 2244.2,634.5C2246.6,635.5 2248.4,630.3 2249.2,624.1C2250,617.8 2248.8,604.9 2248.7,596.9C2248.6,588.9 2248.5,582.2 2248.5,575.8C2248.6,569.5 2248.7,564.3 2248.9,558.7C2249.1,553 2249.4,548 2249.8,542.1C2250.2,536.3 2250.9,530 2251.3,523.6C2251.7,517.2 2252.3,510.2 2252.5,503.7C2252.6,497.1 2252.8,490.4 2252.3,484.3C2251.9,478.1 2251.2,472.8 2249.9,466.6C2248.6,460.5 2247.3,453.2 2244.7,447.1C2242.2,441 2237.3,430.4 2234.6,430.1Z"/><path d="M2326.4,429.6C2329.2,429.3 2331.7,441 2333.4,447.6C2335.2,454.2 2335.8,461.9 2336.7,469C2337.6,476 2338.3,483 2338.8,489.9C2339.3,496.9 2339.6,503.9 2339.7,510.9C2339.8,518 2339.8,525.1 2339.5,532.2C2339.2,539.2 2338.7,546.4 2337.9,553.4C2337.1,560.4 2336,567.5 2334.5,574.3C2333,581.2 2331,587.9 2328.8,594.7C2326.7,601.4 2324,608.1 2321.4,614.7C2318.9,621.4 2316.1,633.6 2313.7,634.6C2311.3,635.6 2308.6,627.9 2307.3,620.8C2305.9,613.8 2305.4,600.6 2305.5,592.3C2305.7,583.9 2307.1,577.3 2308.2,570.7C2309.3,564 2311.1,558.6 2312.2,552.4C2313.2,546.1 2314.1,540.1 2314.4,533.3C2314.6,526.6 2314,519.1 2313.7,511.9C2313.3,504.7 2312.4,497.1 2312.3,490.2C2312.1,483.2 2311.8,477.1 2312.5,470.2C2313.2,463.4 2314.3,455.9 2316.6,449.1C2319,442.3 2323.6,429.8 2326.4,429.6Z"/></g>
<use href="#tooth" x="1861.6" fill="#fff"/>
<g transform="translate(1861.6,0)" clip-path="url(#ct)"><path d="M370,428C371.8,406.7 375.3,431 378.9,432.3C382.5,433.6 387.7,433.9 391.6,436C395.5,438.1 398.2,442.9 402.4,445C406.6,447.1 412.7,448.3 416.9,448.6C421.1,448.9 423.6,446.5 427.8,446.8C432,447.1 438,450.4 442.2,450.4C446.4,450.4 449.8,448.6 453.1,446.8C456.4,445 459.3,441.4 462.1,439.6C464.9,437.8 468.4,420.9 470,436C471.6,451.1 473.3,513 472,530C470.7,547 464.8,535.5 462,538C459.2,540.5 457.3,541.8 455.5,545C453.7,548.2 453,552.8 451.2,557C449.4,561.2 447.2,566 444.7,570C442.2,574 438.3,578.3 436,581C433.7,583.7 432.5,585.8 431,586C429.5,586.2 429.1,582 427,582C424.9,582 420.8,584.3 418.6,586C416.4,587.7 415.4,591.1 414,592C412.6,592.9 411.5,592.7 410,591.5C408.5,590.3 406.4,586.1 405,585C403.6,583.9 402.8,584.2 401.3,585C399.8,585.8 397.7,589.8 396,590C394.3,590.2 393,586.5 391,586C389,585.5 386.5,588.8 384,587C381.5,585.2 378.7,579.5 376,575C373.3,570.5 369,584.5 368,560C367,535.5 368.2,449.3 370,428Z" fill="#dcc355" filter="url(#bl2)"/><ellipse cx="421" cy="469" rx="34" ry="9" fill="#6a4e1b" opacity=".7" filter="url(#bl4)"/><ellipse cx="419" cy="543" rx="27" ry="22" fill="#5e4218" opacity=".9" filter="url(#bl7)"/><ellipse cx="420" cy="500" rx="26" ry="22" fill="#8a6d25" opacity=".55" filter="url(#bl7)"/></g>
<g transform="translate(1861.6,0)" clip-path="url(#ct)">
<path d="M388.5,470C390.4,470.2 395.9,471.5 399.7,471.5C403.4,471.5 407.1,470 410.8,470C414.6,470 418.3,471.5 422,471.5C425.7,471.5 429.4,470 433.2,470C436.9,470 440.6,471.5 444.3,471.5C448.1,471.5 453.6,470.2 455.5,470" fill="none" stroke="#4a2f17" stroke-width="2.7" stroke-linecap="round"/>
<path d="M391.1,470.6C394.8,472.1 395.6,481.1 395.7,490.2C395.7,493.5 398.7,493.5 398.7,490.2C399.6,481.1 398.4,472.1 402.1,470.6ZM397.6,470.6C400.8,472.1 399.2,498.8 400.2,525.7C400.2,528.6 402.8,528.6 402.8,525.7C402.6,498.8 404,472.1 407.2,470.6ZM412.9,470.6C416.1,472.1 417,494.1 417,516.3C417,519.2 419.6,519.2 419.6,516.3C420.4,494.1 419.3,472.1 422.5,470.6ZM424.6,470.6C427.8,472.1 428.7,499.9 428.7,528C428.7,530.9 431.3,530.9 431.3,528C432.1,499.9 431,472.1 434.2,470.6ZM434.5,470.6C437.4,472.1 436.3,484.7 437.1,497.6C437.1,500.3 439.5,500.3 439.5,497.6C439.5,484.7 440.4,472.1 443.3,470.6ZM444.1,470.6C447,472.1 447.9,477.3 447.9,482.8C447.9,485.5 450.3,485.5 450.3,482.8C451.1,477.3 450,472.1 452.9,470.6Z" fill="#4a2f17"/>
</g>
<use href="#tooth" x="1861.6" fill="none" stroke="#c4c4c5" stroke-width="5.2" stroke-linejoin="round"/>
<path d="M2311.6,488C2316.6,500 2316.6,515 2313.6,527" fill="none" stroke="#4a2f17" stroke-width="2.6" stroke-linecap="round" clip-path="none"/>
<path d="M2378.7,554.5C2379,553.4 2380,549.5 2380.2,547.6C2380.4,545.6 2380.4,544.6 2379.9,542.7C2379.5,540.8 2378.4,538.3 2377.5,536.2C2376.6,534 2375.3,531.9 2374.6,529.7C2374,527.5 2373.6,525.3 2373.5,523.1C2373.4,520.9 2373.5,518.6 2374.2,516.6C2375,514.6 2376.5,512.5 2378,511.2C2379.4,510 2381.3,509.3 2382.8,508.9C2384.3,508.4 2385.4,508.4 2386.9,508.6C2388.4,508.8 2390.2,509.2 2391.7,510.1C2393.2,511 2394.7,512.5 2395.8,514.1C2396.9,515.7 2397.8,518 2398.2,519.9C2398.6,521.8 2398.5,523.6 2398.2,525.6C2397.9,527.6 2397.2,529.9 2396.3,532.1C2395.4,534.2 2394,536.4 2392.6,538.6C2391.1,540.8 2389.3,543.2 2387.6,545.2C2386,547.3 2384.3,549.4 2382.8,550.9C2381.3,552.5 2379.4,553.9 2378.7,554.5Z" fill="#e2a62e"/>
<path d="M2387.9,553C2388.7,553.2 2391.2,554 2392.4,554.5C2393.5,555.1 2394.1,555.4 2395,556.4C2395.9,557.3 2396.9,558.8 2397.8,560C2398.8,561.3 2399.5,562.7 2400.5,563.9C2401.5,565 2402.6,566 2403.8,566.8C2405,567.6 2406.4,568.3 2407.8,568.6C2409.2,568.9 2410.9,568.7 2412.1,568.4C2413.3,568 2414.3,567.1 2415.1,566.4C2415.8,565.8 2416.2,565.1 2416.6,564.2C2417,563.3 2417.5,562.1 2417.5,561C2417.5,559.8 2417.2,558.5 2416.6,557.3C2416.1,556.1 2415.1,554.8 2414.2,554C2413.2,553.1 2412.2,552.5 2410.9,552C2409.7,551.5 2408.2,551 2406.7,550.8C2405.1,550.6 2403.4,550.6 2401.7,550.6C2399.9,550.7 2398,551 2396.3,551.2C2394.5,551.4 2392.8,551.6 2391.4,551.9C2390,552.2 2388.5,552.8 2387.9,553Z" fill="#ee5452"/>
<path d="M201.5,364.6H173V580.2H201.5" fill="none" stroke="#3e3a39" stroke-width="1.6"/>
<text class="a" x="151" y="417" text-anchor="middle"><tspan x="151" dy="22">歯</tspan><tspan x="151" dy="28.3">周</tspan><tspan x="151" dy="28.3">組</tspan><tspan x="151" dy="28.3">織</tspan></text>
<text class="a" x="208.5" y="389.7" textLength="81.5" lengthAdjust="spacing">歯肉溝</text>
<path d="M308.5,379.2H327L380.3,472.5" fill="none" stroke="#3e3a39" stroke-width="1.6"/>
<text class="a" x="208.5" y="475" textLength="53" lengthAdjust="spacing">歯肉</text>
<path d="M280,465.4H339L365.3,481.3" fill="none" stroke="#3e3a39" stroke-width="1.6"/>
<text class="a" x="208.5" y="574" textLength="81.5" lengthAdjust="spacing">歯槽骨</text>
<path d="M302,562.7H338L360.8,577" fill="none" stroke="#3e3a39" stroke-width="1.6"/>
<text class="a" x="655.5" y="391.6" textLength="123" lengthAdjust="spacing">歯垢・歯石</text>
<path d="M789,382H807.3L831.7,444" fill="none" stroke="#3e3a39" stroke-width="1.6"/>
<text class="a" x="655.5" y="510.3" textLength="106" lengthAdjust="spacing">歯周病菌</text>
<path d="M742,440.5L823.5,456.7L740.5,457.5Z" fill="#e8c967" stroke="#d4d4d4" stroke-width="1.2" stroke-linejoin="round"/>
<circle cx="708.4" cy="444.6" r="34.5" fill="#e8c967" stroke="#d2d2d2" stroke-width="2"/>
<path d="M742.3,441.6L815,456L741.5,456.6Z" fill="#e8c967"/>
<g fill="none" stroke="#6e5b4b" stroke-width="4" stroke-linecap="round"><path d="M692.4,420H705M687.4,442.3L697,436M719.6,439.6H728.6L733,431.4M728.6,439.6L732.2,447.7M686,452.2L692.4,458.5L699.7,455M692.4,458.5L688.8,466.7M716.9,454L727.7,464"/></g>
<g fill="#6e5b4b"><circle cx="709.6" cy="432.3" r="2.6"/><circle cx="707.3" cy="437.4" r="2.6"/><circle cx="705.5" cy="442.8" r="2.6"/><circle cx="706.2" cy="448.2" r="2.6"/><circle cx="709.6" cy="451.9" r="2.6"/><circle cx="712" cy="455.8" r="2.6"/><circle cx="709.6" cy="460.4" r="2.6"/><circle cx="705.1" cy="463.4" r="2.6"/></g>
<text class="a" x="1122.5" y="386.2" textLength="53" lengthAdjust="spacing">歯周</text>
<text class="a" x="1122.5" y="418.3" textLength="89.5" lengthAdjust="spacing">ポケット</text>
<path d="M1223.5,410H1248L1300.5,503.3" fill="none" stroke="#3e3a39" stroke-width="1.6"/>
<text class="d" x="199.8" y="850.5">・</text>
<text class="b" x="230.3" y="850.5" textLength="303" lengthAdjust="spacing">ピンクで引き締まった歯肉</text>
<text class="d" x="199.8" y="900.9">・</text>
<text class="b" x="230.3" y="900.9" textLength="222" lengthAdjust="spacing">歯肉溝は1mm程度</text>
<text class="d" x="199.8" y="951.3">・</text>
<text class="b" x="230.3" y="951.3" textLength="313.5" lengthAdjust="spacing">歯周組織に保持されている</text>
<text class="d" x="665.5" y="850.5">・</text>
<text class="b" x="696" y="850.5" textLength="250" lengthAdjust="spacing">歯に歯垢・歯石がつく</text>
<text class="d" x="665.5" y="900.9">・</text>
<text class="b" x="696" y="900.9" textLength="380" lengthAdjust="spacing">歯肉が炎症をおこして赤く腫れる</text>
<text class="d" x="665.5" y="951.3">・</text>
<text class="b" x="696" y="951.3" textLength="251.5" lengthAdjust="spacing">歯肉溝が少し深くなる</text>
<text class="d" x="665.5" y="1001.7">・</text>
<text class="b" x="696" y="1001.7" textLength="275.5" lengthAdjust="spacing">ブラッシングで出血する</text>
<text class="d" x="1131.2" y="850.5">・</text>
<text class="b" x="1161.7" y="850.5" textLength="335" lengthAdjust="spacing">歯肉がさらに腫れ赤紫になる</text>
<text class="d" x="1131.2" y="900.9">・</text>
<text class="b" x="1161.7" y="900.9" textLength="265" lengthAdjust="spacing">歯周ポケットが深くなる</text>
<text class="d" x="1131.2" y="951.3">・</text>
<text class="b" x="1161.7" y="951.3" textLength="259" lengthAdjust="spacing">歯槽骨が溶けはじめる</text>
<text class="d" x="1131.2" y="1001.7">・</text>
<text class="b" x="1161.7" y="1001.7" textLength="275.5" lengthAdjust="spacing">ブラッシングで出血する</text>
<text class="d" x="1597.2" y="850.5">・</text>
<text class="b" x="1627.7" y="850.5" textLength="287" lengthAdjust="spacing">歯肉は大きく膨らみ赤紫</text>
<text class="d" x="1597.2" y="900.9">・</text>
<text class="b" x="1627.7" y="900.9" textLength="381.5" lengthAdjust="spacing">歯槽骨が溶け歯が動くようになる</text>
<text class="d" x="1597.2" y="951.3">・</text>
<text class="b" x="1627.7" y="951.3" textLength="332.5" lengthAdjust="spacing">ブラッシングで膿や血が出る</text>
<text class="d" x="1597.2" y="1001.7">・</text>
<text class="b" x="1627.7" y="1001.7" textLength="276.5" lengthAdjust="spacing">口臭が気になりはじめる</text>
<text class="d" x="2062.1" y="850.5">・</text>
<text class="b" x="2092.6" y="850.5" textLength="287" lengthAdjust="spacing">歯肉は大きく膨らみ赤紫</text>
<text class="d" x="2062.1" y="900.9">・</text>
<text class="b" x="2092.6" y="900.9" textLength="361" lengthAdjust="spacing">歯肉が後退して歯が長く見える</text>
<text class="d" x="2062.1" y="951.3">・</text>
<text class="b" x="2092.6" y="951.3" textLength="397" lengthAdjust="spacing">歯がグラグラになり、やがて抜ける</text>
<text class="d" x="2062.1" y="1001.7">・</text>
<text class="b" x="2092.6" y="1001.7" textLength="364" lengthAdjust="spacing">食事をしただけで膿や血が出る</text>
<text class="d" x="2062.1" y="1052.1">・</text>
<text class="b" x="2092.6" y="1052.1" textLength="172.5" lengthAdjust="spacing">口臭が強くなる</text>
</svg></body></html>
